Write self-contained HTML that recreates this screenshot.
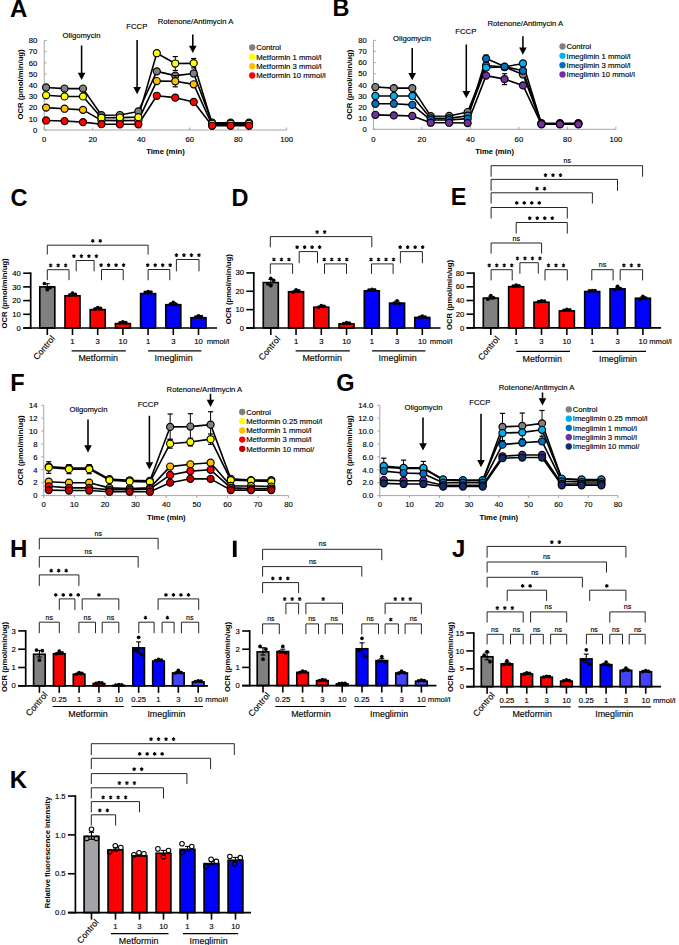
<!DOCTYPE html><html><head><meta charset="utf-8"><style>html,body{margin:0;padding:0;background:#fff;}svg{display:block;}text{font-family:"Liberation Sans",sans-serif;fill:#000;stroke:#000;stroke-width:0.14px;}text[font-weight="bold"]{stroke-width:0;}</style></head><body>
<svg width="679" height="945" viewBox="0 0 679 945">
<rect width="679" height="945" fill="#fff"/>
<text x="10" y="16.8" font-size="24" text-anchor="start" font-weight="bold">A</text>
<text x="332.6" y="16.3" font-size="23.5" text-anchor="start" font-weight="bold">B</text>
<text x="10.4" y="206" font-size="23.5" text-anchor="start" font-weight="bold">C</text>
<text x="231.5" y="206" font-size="23.5" text-anchor="start" font-weight="bold">D</text>
<text x="450.8" y="205.2" font-size="23.5" text-anchor="start" font-weight="bold">E</text>
<text x="10.2" y="390.5" font-size="23.5" text-anchor="start" font-weight="bold">F</text>
<text x="336.3" y="390.5" font-size="23.5" text-anchor="start" font-weight="bold">G</text>
<text x="10" y="557" font-size="24" text-anchor="start" font-weight="bold">H</text>
<rect x="232.9" y="540.7" width="3.7" height="16.3" fill="#000"/>
<text x="451.9" y="557.4" font-size="24" text-anchor="start" font-weight="bold">J</text>
<text x="9.8" y="788.2" font-size="24" text-anchor="start" font-weight="bold">K</text>
<line x1="44.2" y1="130" x2="44.2" y2="40.48" stroke="#a6a6a6" stroke-width="1"/>
<line x1="44.2" y1="130" x2="286.7" y2="130" stroke="#a6a6a6" stroke-width="1"/>
<line x1="44.2" y1="130" x2="46.7" y2="130" stroke="#a6a6a6" stroke-width="1"/>
<text x="37.3" y="132.75" font-size="7.7" text-anchor="end">0</text>
<line x1="44.2" y1="118.81" x2="46.7" y2="118.81" stroke="#a6a6a6" stroke-width="1"/>
<text x="37.3" y="121.56" font-size="7.7" text-anchor="end">10</text>
<line x1="44.2" y1="107.62" x2="46.7" y2="107.62" stroke="#a6a6a6" stroke-width="1"/>
<text x="37.3" y="110.37" font-size="7.7" text-anchor="end">20</text>
<line x1="44.2" y1="96.43" x2="46.7" y2="96.43" stroke="#a6a6a6" stroke-width="1"/>
<text x="37.3" y="99.18" font-size="7.7" text-anchor="end">30</text>
<line x1="44.2" y1="85.24" x2="46.7" y2="85.24" stroke="#a6a6a6" stroke-width="1"/>
<text x="37.3" y="87.99" font-size="7.7" text-anchor="end">40</text>
<line x1="44.2" y1="74.05" x2="46.7" y2="74.05" stroke="#a6a6a6" stroke-width="1"/>
<text x="37.3" y="76.8" font-size="7.7" text-anchor="end">50</text>
<line x1="44.2" y1="62.86" x2="46.7" y2="62.86" stroke="#a6a6a6" stroke-width="1"/>
<text x="37.3" y="65.61" font-size="7.7" text-anchor="end">60</text>
<line x1="44.2" y1="51.67" x2="46.7" y2="51.67" stroke="#a6a6a6" stroke-width="1"/>
<text x="37.3" y="54.42" font-size="7.7" text-anchor="end">70</text>
<line x1="44.2" y1="40.48" x2="46.7" y2="40.48" stroke="#a6a6a6" stroke-width="1"/>
<text x="37.3" y="43.23" font-size="7.7" text-anchor="end">80</text>
<line x1="44.2" y1="130" x2="44.2" y2="127.5" stroke="#a6a6a6" stroke-width="1"/>
<text x="44.2" y="141.6" font-size="7.7" text-anchor="middle">0</text>
<line x1="92.7" y1="130" x2="92.7" y2="127.5" stroke="#a6a6a6" stroke-width="1"/>
<text x="92.7" y="141.6" font-size="7.7" text-anchor="middle">20</text>
<line x1="141.2" y1="130" x2="141.2" y2="127.5" stroke="#a6a6a6" stroke-width="1"/>
<text x="141.2" y="141.6" font-size="7.7" text-anchor="middle">40</text>
<line x1="189.7" y1="130" x2="189.7" y2="127.5" stroke="#a6a6a6" stroke-width="1"/>
<text x="189.7" y="141.6" font-size="7.7" text-anchor="middle">60</text>
<line x1="238.2" y1="130" x2="238.2" y2="127.5" stroke="#a6a6a6" stroke-width="1"/>
<text x="238.2" y="141.6" font-size="7.7" text-anchor="middle">80</text>
<line x1="286.7" y1="130" x2="286.7" y2="127.5" stroke="#a6a6a6" stroke-width="1"/>
<text x="286.7" y="141.6" font-size="7.7" text-anchor="middle">100</text>
<text x="165.5" y="154.2" font-size="7.7" text-anchor="middle" font-weight="bold">Time (min)</text>
<text x="0" y="0" font-size="7.7" font-weight="bold" text-anchor="middle" transform="translate(23,84.4) rotate(-90)">OCR (pmol/min/ug)</text>
<text x="81.5" y="38.2" font-size="7.7" text-anchor="middle">Oligomycin</text>
<text x="136.8" y="29" font-size="7.7" text-anchor="middle">FCCP</text>
<text x="195.5" y="23.7" font-size="7.7" text-anchor="middle">Rotenone/Antimycin A</text>
<line x1="81.6" y1="45.5" x2="81.6" y2="73.2" stroke="#000" stroke-width="1.55"/>
<path d="M77.8 72.7 L85.4 72.7 L81.6 80 Z" fill="#000"/>
<line x1="137.1" y1="40" x2="137.1" y2="87.5" stroke="#000" stroke-width="1.55"/>
<path d="M133.3 87 L140.9 87 L137.1 94.3 Z" fill="#000"/>
<line x1="192.8" y1="34.5" x2="192.8" y2="46.2" stroke="#000" stroke-width="1.55"/>
<path d="M189 45.7 L196.6 45.7 L192.8 53 Z" fill="#000"/>
<path d="M46.1 87.48 L64.55 88.6 L83 88.6 L101.45 115.23 L119.9 115.01 L138.35 111.42 L156.8 71.36 L175.25 75.62 L193.7 73.49 L212.15 122.73 L230.6 122.73 L249.05 122.73" fill="none" stroke="#000" stroke-width="1.6" stroke-linejoin="round"/>
<path d="M46.1 95.31 L64.55 96.43 L83 96.43 L101.45 117.69 L119.9 117.58 L138.35 117.13 L156.8 53.24 L175.25 63.53 L193.7 63.2 L212.15 123.85 L230.6 123.85 L249.05 123.85" fill="none" stroke="#000" stroke-width="1.6" stroke-linejoin="round"/>
<path d="M46.1 107.62 L64.55 108.74 L83 109.86 L101.45 120.38 L119.9 120.6 L138.35 120.38 L156.8 81.1 L175.25 81.21 L193.7 84.34 L212.15 124.96 L230.6 124.41 L249.05 124.41" fill="none" stroke="#000" stroke-width="1.6" stroke-linejoin="round"/>
<path d="M46.1 120.49 L64.55 121.05 L83 122.17 L101.45 124.18 L119.9 124.29 L138.35 124.29 L156.8 95.76 L175.25 97.66 L193.7 101.91 L212.15 125.75 L230.6 125.75 L249.05 125.75" fill="none" stroke="#000" stroke-width="1.6" stroke-linejoin="round"/>
<line x1="156.8" y1="69.69" x2="156.8" y2="73.04" stroke="#000" stroke-width="1"/>
<line x1="154.2" y1="69.69" x2="159.4" y2="69.69" stroke="#000" stroke-width="1.2"/>
<line x1="154.2" y1="73.04" x2="159.4" y2="73.04" stroke="#000" stroke-width="1.2"/>
<line x1="175.25" y1="73.94" x2="175.25" y2="77.3" stroke="#000" stroke-width="1"/>
<line x1="172.65" y1="73.94" x2="177.85" y2="73.94" stroke="#000" stroke-width="1.2"/>
<line x1="172.65" y1="77.3" x2="177.85" y2="77.3" stroke="#000" stroke-width="1.2"/>
<line x1="193.7" y1="70.69" x2="193.7" y2="76.29" stroke="#000" stroke-width="1"/>
<line x1="191.1" y1="70.69" x2="196.3" y2="70.69" stroke="#000" stroke-width="1.2"/>
<line x1="191.1" y1="76.29" x2="196.3" y2="76.29" stroke="#000" stroke-width="1.2"/>
<circle cx="46.1" cy="87.48" r="3.55" fill="#808080" stroke="#000" stroke-width="1.15"/>
<circle cx="64.55" cy="88.6" r="3.55" fill="#808080" stroke="#000" stroke-width="1.15"/>
<circle cx="83" cy="88.6" r="3.55" fill="#808080" stroke="#000" stroke-width="1.15"/>
<circle cx="101.45" cy="115.23" r="3.55" fill="#808080" stroke="#000" stroke-width="1.15"/>
<circle cx="119.9" cy="115.01" r="3.55" fill="#808080" stroke="#000" stroke-width="1.15"/>
<circle cx="138.35" cy="111.42" r="3.55" fill="#808080" stroke="#000" stroke-width="1.15"/>
<circle cx="156.8" cy="71.36" r="3.55" fill="#808080" stroke="#000" stroke-width="1.15"/>
<circle cx="175.25" cy="75.62" r="3.55" fill="#808080" stroke="#000" stroke-width="1.15"/>
<circle cx="193.7" cy="73.49" r="3.55" fill="#808080" stroke="#000" stroke-width="1.15"/>
<circle cx="212.15" cy="122.73" r="3.55" fill="#808080" stroke="#000" stroke-width="1.15"/>
<circle cx="230.6" cy="122.73" r="3.55" fill="#808080" stroke="#000" stroke-width="1.15"/>
<circle cx="249.05" cy="122.73" r="3.55" fill="#808080" stroke="#000" stroke-width="1.15"/>
<line x1="175.25" y1="75.62" x2="175.25" y2="86.81" stroke="#000" stroke-width="1"/>
<line x1="172.65" y1="75.62" x2="177.85" y2="75.62" stroke="#000" stroke-width="1.2"/>
<line x1="172.65" y1="86.81" x2="177.85" y2="86.81" stroke="#000" stroke-width="1.2"/>
<circle cx="46.1" cy="107.62" r="3.55" fill="#ffc000" stroke="#000" stroke-width="1.15"/>
<circle cx="64.55" cy="108.74" r="3.55" fill="#ffc000" stroke="#000" stroke-width="1.15"/>
<circle cx="83" cy="109.86" r="3.55" fill="#ffc000" stroke="#000" stroke-width="1.15"/>
<circle cx="101.45" cy="120.38" r="3.55" fill="#ffc000" stroke="#000" stroke-width="1.15"/>
<circle cx="119.9" cy="120.6" r="3.55" fill="#ffc000" stroke="#000" stroke-width="1.15"/>
<circle cx="138.35" cy="120.38" r="3.55" fill="#ffc000" stroke="#000" stroke-width="1.15"/>
<circle cx="156.8" cy="81.1" r="3.55" fill="#ffc000" stroke="#000" stroke-width="1.15"/>
<circle cx="175.25" cy="81.21" r="3.55" fill="#ffc000" stroke="#000" stroke-width="1.15"/>
<circle cx="193.7" cy="84.34" r="3.55" fill="#ffc000" stroke="#000" stroke-width="1.15"/>
<circle cx="212.15" cy="124.96" r="3.55" fill="#ffc000" stroke="#000" stroke-width="1.15"/>
<circle cx="230.6" cy="124.41" r="3.55" fill="#ffc000" stroke="#000" stroke-width="1.15"/>
<circle cx="249.05" cy="124.41" r="3.55" fill="#ffc000" stroke="#000" stroke-width="1.15"/>
<line x1="175.25" y1="56.59" x2="175.25" y2="70.47" stroke="#000" stroke-width="1"/>
<line x1="172.65" y1="56.59" x2="177.85" y2="56.59" stroke="#000" stroke-width="1.2"/>
<line x1="172.65" y1="70.47" x2="177.85" y2="70.47" stroke="#000" stroke-width="1.2"/>
<line x1="193.7" y1="58.5" x2="193.7" y2="67.9" stroke="#000" stroke-width="1"/>
<line x1="191.1" y1="58.5" x2="196.3" y2="58.5" stroke="#000" stroke-width="1.2"/>
<line x1="191.1" y1="67.9" x2="196.3" y2="67.9" stroke="#000" stroke-width="1.2"/>
<circle cx="46.1" cy="95.31" r="3.55" fill="#ffff00" stroke="#000" stroke-width="1.15"/>
<circle cx="64.55" cy="96.43" r="3.55" fill="#ffff00" stroke="#000" stroke-width="1.15"/>
<circle cx="83" cy="96.43" r="3.55" fill="#ffff00" stroke="#000" stroke-width="1.15"/>
<circle cx="101.45" cy="117.69" r="3.55" fill="#ffff00" stroke="#000" stroke-width="1.15"/>
<circle cx="119.9" cy="117.58" r="3.55" fill="#ffff00" stroke="#000" stroke-width="1.15"/>
<circle cx="138.35" cy="117.13" r="3.55" fill="#ffff00" stroke="#000" stroke-width="1.15"/>
<circle cx="156.8" cy="53.24" r="3.55" fill="#ffff00" stroke="#000" stroke-width="1.15"/>
<circle cx="175.25" cy="63.53" r="3.55" fill="#ffff00" stroke="#000" stroke-width="1.15"/>
<circle cx="193.7" cy="63.2" r="3.55" fill="#ffff00" stroke="#000" stroke-width="1.15"/>
<circle cx="212.15" cy="123.85" r="3.55" fill="#ffff00" stroke="#000" stroke-width="1.15"/>
<circle cx="230.6" cy="123.85" r="3.55" fill="#ffff00" stroke="#000" stroke-width="1.15"/>
<circle cx="249.05" cy="123.85" r="3.55" fill="#ffff00" stroke="#000" stroke-width="1.15"/>
<circle cx="46.1" cy="120.49" r="3.55" fill="#ff0000" stroke="#000" stroke-width="1.15"/>
<circle cx="64.55" cy="121.05" r="3.55" fill="#ff0000" stroke="#000" stroke-width="1.15"/>
<circle cx="83" cy="122.17" r="3.55" fill="#ff0000" stroke="#000" stroke-width="1.15"/>
<circle cx="101.45" cy="124.18" r="3.55" fill="#ff0000" stroke="#000" stroke-width="1.15"/>
<circle cx="119.9" cy="124.29" r="3.55" fill="#ff0000" stroke="#000" stroke-width="1.15"/>
<circle cx="138.35" cy="124.29" r="3.55" fill="#ff0000" stroke="#000" stroke-width="1.15"/>
<circle cx="156.8" cy="95.76" r="3.55" fill="#ff0000" stroke="#000" stroke-width="1.15"/>
<circle cx="175.25" cy="97.66" r="3.55" fill="#ff0000" stroke="#000" stroke-width="1.15"/>
<circle cx="193.7" cy="101.91" r="3.55" fill="#ff0000" stroke="#000" stroke-width="1.15"/>
<circle cx="212.15" cy="125.75" r="3.55" fill="#ff0000" stroke="#000" stroke-width="1.15"/>
<circle cx="230.6" cy="125.75" r="3.55" fill="#ff0000" stroke="#000" stroke-width="1.15"/>
<circle cx="249.05" cy="125.75" r="3.55" fill="#ff0000" stroke="#000" stroke-width="1.15"/>
<circle cx="252.2" cy="47.5" r="3.15" fill="#808080"/>
<text x="256.2" y="50.25" font-size="7.7" text-anchor="start">Control</text>
<circle cx="252.2" cy="56.83" r="3.15" fill="#ffff00"/>
<text x="256.2" y="59.58" font-size="7.7" text-anchor="start">Metformin 1 mmol/l</text>
<circle cx="252.2" cy="66.16" r="3.15" fill="#ffc000"/>
<text x="256.2" y="68.91" font-size="7.7" text-anchor="start">Metformin 3 mmol/l</text>
<circle cx="252.2" cy="75.49" r="3.15" fill="#ff0000"/>
<text x="256.2" y="78.24" font-size="7.7" text-anchor="start">Metformin 10 mmol/l</text>
<line x1="373.4" y1="129.3" x2="373.4" y2="40.36" stroke="#a6a6a6" stroke-width="1"/>
<line x1="373.4" y1="129.3" x2="615.9" y2="129.3" stroke="#a6a6a6" stroke-width="1"/>
<line x1="373.4" y1="129.3" x2="375.9" y2="129.3" stroke="#a6a6a6" stroke-width="1"/>
<text x="366.9" y="132.05" font-size="7.7" text-anchor="end">0</text>
<line x1="373.4" y1="118.18" x2="375.9" y2="118.18" stroke="#a6a6a6" stroke-width="1"/>
<text x="366.9" y="120.93" font-size="7.7" text-anchor="end">10</text>
<line x1="373.4" y1="107.07" x2="375.9" y2="107.07" stroke="#a6a6a6" stroke-width="1"/>
<text x="366.9" y="109.82" font-size="7.7" text-anchor="end">20</text>
<line x1="373.4" y1="95.95" x2="375.9" y2="95.95" stroke="#a6a6a6" stroke-width="1"/>
<text x="366.9" y="98.7" font-size="7.7" text-anchor="end">30</text>
<line x1="373.4" y1="84.83" x2="375.9" y2="84.83" stroke="#a6a6a6" stroke-width="1"/>
<text x="366.9" y="87.58" font-size="7.7" text-anchor="end">40</text>
<line x1="373.4" y1="73.72" x2="375.9" y2="73.72" stroke="#a6a6a6" stroke-width="1"/>
<text x="366.9" y="76.47" font-size="7.7" text-anchor="end">50</text>
<line x1="373.4" y1="62.6" x2="375.9" y2="62.6" stroke="#a6a6a6" stroke-width="1"/>
<text x="366.9" y="65.35" font-size="7.7" text-anchor="end">60</text>
<line x1="373.4" y1="51.48" x2="375.9" y2="51.48" stroke="#a6a6a6" stroke-width="1"/>
<text x="366.9" y="54.23" font-size="7.7" text-anchor="end">70</text>
<line x1="373.4" y1="40.36" x2="375.9" y2="40.36" stroke="#a6a6a6" stroke-width="1"/>
<text x="366.9" y="43.11" font-size="7.7" text-anchor="end">80</text>
<line x1="373.4" y1="129.3" x2="373.4" y2="126.8" stroke="#a6a6a6" stroke-width="1"/>
<text x="373.4" y="141.6" font-size="7.7" text-anchor="middle">0</text>
<line x1="421.9" y1="129.3" x2="421.9" y2="126.8" stroke="#a6a6a6" stroke-width="1"/>
<text x="421.9" y="141.6" font-size="7.7" text-anchor="middle">20</text>
<line x1="470.4" y1="129.3" x2="470.4" y2="126.8" stroke="#a6a6a6" stroke-width="1"/>
<text x="470.4" y="141.6" font-size="7.7" text-anchor="middle">40</text>
<line x1="518.9" y1="129.3" x2="518.9" y2="126.8" stroke="#a6a6a6" stroke-width="1"/>
<text x="518.9" y="141.6" font-size="7.7" text-anchor="middle">60</text>
<line x1="567.4" y1="129.3" x2="567.4" y2="126.8" stroke="#a6a6a6" stroke-width="1"/>
<text x="567.4" y="141.6" font-size="7.7" text-anchor="middle">80</text>
<line x1="615.9" y1="129.3" x2="615.9" y2="126.8" stroke="#a6a6a6" stroke-width="1"/>
<text x="615.9" y="141.6" font-size="7.7" text-anchor="middle">100</text>
<text x="494.6" y="154.2" font-size="7.7" text-anchor="middle" font-weight="bold">Time (min)</text>
<text x="0" y="0" font-size="7.7" font-weight="bold" text-anchor="middle" transform="translate(352,84.8) rotate(-90)">OCR (pmol/min/ug)</text>
<text x="412" y="40.6" font-size="7.7" text-anchor="middle">Oligomycin</text>
<text x="465.8" y="33.6" font-size="7.7" text-anchor="middle">FCCP</text>
<text x="525.3" y="25.5" font-size="7.7" text-anchor="middle">Rotenone/Antimycin A</text>
<line x1="412.2" y1="48" x2="412.2" y2="73.5" stroke="#000" stroke-width="1.55"/>
<path d="M408.4 73 L416 73 L412.2 80.3 Z" fill="#000"/>
<line x1="466.3" y1="44.5" x2="466.3" y2="91.5" stroke="#000" stroke-width="1.55"/>
<path d="M462.5 91 L470.1 91 L466.3 98.3 Z" fill="#000"/>
<line x1="522.9" y1="36.3" x2="522.9" y2="48" stroke="#000" stroke-width="1.55"/>
<path d="M519.1 47.5 L526.7 47.5 L522.9 54.8 Z" fill="#000"/>
<path d="M375.4 87.06 L393.85 88.17 L412.3 88.17 L430.75 116.18 L449.2 115.96 L467.65 112.07 L486.1 65.49 L504.55 67.04 L523 74.49 L541.45 123.19 L559.9 123.19 L578.35 123.19" fill="none" stroke="#000" stroke-width="1.6" stroke-linejoin="round"/>
<path d="M375.4 95.95 L393.85 95.95 L412.3 95.95 L430.75 118.41 L449.2 118.41 L467.65 115.74 L486.1 67.6 L504.55 66.82 L523 63.49 L541.45 123.74 L559.9 123.74 L578.35 123.74" fill="none" stroke="#000" stroke-width="1.6" stroke-linejoin="round"/>
<path d="M375.4 103.73 L393.85 103.73 L412.3 104.84 L430.75 120.07 L449.2 120.07 L467.65 118.63 L486.1 58.6 L504.55 66.6 L523 70.71 L541.45 123.96 L559.9 123.96 L578.35 123.96" fill="none" stroke="#000" stroke-width="1.6" stroke-linejoin="round"/>
<path d="M375.4 114.85 L393.85 115.4 L412.3 115.96 L430.75 122.74 L449.2 122.74 L467.65 123.07 L486.1 75.6 L504.55 79.16 L523 85.39 L541.45 124.3 L559.9 124.3 L578.35 124.3" fill="none" stroke="#000" stroke-width="1.6" stroke-linejoin="round"/>
<line x1="523" y1="72.27" x2="523" y2="76.72" stroke="#000" stroke-width="1"/>
<line x1="520.4" y1="72.27" x2="525.6" y2="72.27" stroke="#000" stroke-width="1.2"/>
<line x1="520.4" y1="76.72" x2="525.6" y2="76.72" stroke="#000" stroke-width="1.2"/>
<circle cx="375.4" cy="87.06" r="3.55" fill="#808080" stroke="#000" stroke-width="1.15"/>
<circle cx="393.85" cy="88.17" r="3.55" fill="#808080" stroke="#000" stroke-width="1.15"/>
<circle cx="412.3" cy="88.17" r="3.55" fill="#808080" stroke="#000" stroke-width="1.15"/>
<circle cx="430.75" cy="116.18" r="3.55" fill="#808080" stroke="#000" stroke-width="1.15"/>
<circle cx="449.2" cy="115.96" r="3.55" fill="#808080" stroke="#000" stroke-width="1.15"/>
<circle cx="467.65" cy="112.07" r="3.55" fill="#808080" stroke="#000" stroke-width="1.15"/>
<circle cx="486.1" cy="65.49" r="3.55" fill="#808080" stroke="#000" stroke-width="1.15"/>
<circle cx="504.55" cy="67.04" r="3.55" fill="#808080" stroke="#000" stroke-width="1.15"/>
<circle cx="523" cy="74.49" r="3.55" fill="#808080" stroke="#000" stroke-width="1.15"/>
<circle cx="541.45" cy="123.19" r="3.55" fill="#808080" stroke="#000" stroke-width="1.15"/>
<circle cx="559.9" cy="123.19" r="3.55" fill="#808080" stroke="#000" stroke-width="1.15"/>
<circle cx="578.35" cy="123.19" r="3.55" fill="#808080" stroke="#000" stroke-width="1.15"/>
<circle cx="375.4" cy="95.95" r="3.55" fill="#00b0f0" stroke="#000" stroke-width="1.15"/>
<circle cx="393.85" cy="95.95" r="3.55" fill="#00b0f0" stroke="#000" stroke-width="1.15"/>
<circle cx="412.3" cy="95.95" r="3.55" fill="#00b0f0" stroke="#000" stroke-width="1.15"/>
<circle cx="430.75" cy="118.41" r="3.55" fill="#00b0f0" stroke="#000" stroke-width="1.15"/>
<circle cx="449.2" cy="118.41" r="3.55" fill="#00b0f0" stroke="#000" stroke-width="1.15"/>
<circle cx="467.65" cy="115.74" r="3.55" fill="#00b0f0" stroke="#000" stroke-width="1.15"/>
<circle cx="486.1" cy="67.6" r="3.55" fill="#00b0f0" stroke="#000" stroke-width="1.15"/>
<circle cx="504.55" cy="66.82" r="3.55" fill="#00b0f0" stroke="#000" stroke-width="1.15"/>
<circle cx="523" cy="63.49" r="3.55" fill="#00b0f0" stroke="#000" stroke-width="1.15"/>
<circle cx="541.45" cy="123.74" r="3.55" fill="#00b0f0" stroke="#000" stroke-width="1.15"/>
<circle cx="559.9" cy="123.74" r="3.55" fill="#00b0f0" stroke="#000" stroke-width="1.15"/>
<circle cx="578.35" cy="123.74" r="3.55" fill="#00b0f0" stroke="#000" stroke-width="1.15"/>
<line x1="375.4" y1="102.06" x2="375.4" y2="105.4" stroke="#000" stroke-width="1"/>
<line x1="372.8" y1="102.06" x2="378" y2="102.06" stroke="#000" stroke-width="1.2"/>
<line x1="372.8" y1="105.4" x2="378" y2="105.4" stroke="#000" stroke-width="1.2"/>
<line x1="486.1" y1="55.04" x2="486.1" y2="62.15" stroke="#000" stroke-width="1"/>
<line x1="483.5" y1="55.04" x2="488.7" y2="55.04" stroke="#000" stroke-width="1.2"/>
<line x1="483.5" y1="62.15" x2="488.7" y2="62.15" stroke="#000" stroke-width="1.2"/>
<circle cx="375.4" cy="103.73" r="3.55" fill="#0070c0" stroke="#000" stroke-width="1.15"/>
<circle cx="393.85" cy="103.73" r="3.55" fill="#0070c0" stroke="#000" stroke-width="1.15"/>
<circle cx="412.3" cy="104.84" r="3.55" fill="#0070c0" stroke="#000" stroke-width="1.15"/>
<circle cx="430.75" cy="120.07" r="3.55" fill="#0070c0" stroke="#000" stroke-width="1.15"/>
<circle cx="449.2" cy="120.07" r="3.55" fill="#0070c0" stroke="#000" stroke-width="1.15"/>
<circle cx="467.65" cy="118.63" r="3.55" fill="#0070c0" stroke="#000" stroke-width="1.15"/>
<circle cx="486.1" cy="58.6" r="3.55" fill="#0070c0" stroke="#000" stroke-width="1.15"/>
<circle cx="504.55" cy="66.6" r="3.55" fill="#0070c0" stroke="#000" stroke-width="1.15"/>
<circle cx="523" cy="70.71" r="3.55" fill="#0070c0" stroke="#000" stroke-width="1.15"/>
<circle cx="541.45" cy="123.96" r="3.55" fill="#0070c0" stroke="#000" stroke-width="1.15"/>
<circle cx="559.9" cy="123.96" r="3.55" fill="#0070c0" stroke="#000" stroke-width="1.15"/>
<circle cx="578.35" cy="123.96" r="3.55" fill="#0070c0" stroke="#000" stroke-width="1.15"/>
<line x1="504.55" y1="73.72" x2="504.55" y2="84.61" stroke="#000" stroke-width="1"/>
<line x1="501.95" y1="73.72" x2="507.15" y2="73.72" stroke="#000" stroke-width="1.2"/>
<line x1="501.95" y1="84.61" x2="507.15" y2="84.61" stroke="#000" stroke-width="1.2"/>
<circle cx="375.4" cy="114.85" r="3.55" fill="#7030a0" stroke="#000" stroke-width="1.15"/>
<circle cx="393.85" cy="115.4" r="3.55" fill="#7030a0" stroke="#000" stroke-width="1.15"/>
<circle cx="412.3" cy="115.96" r="3.55" fill="#7030a0" stroke="#000" stroke-width="1.15"/>
<circle cx="430.75" cy="122.74" r="3.55" fill="#7030a0" stroke="#000" stroke-width="1.15"/>
<circle cx="449.2" cy="122.74" r="3.55" fill="#7030a0" stroke="#000" stroke-width="1.15"/>
<circle cx="467.65" cy="123.07" r="3.55" fill="#7030a0" stroke="#000" stroke-width="1.15"/>
<circle cx="486.1" cy="75.6" r="3.55" fill="#7030a0" stroke="#000" stroke-width="1.15"/>
<circle cx="504.55" cy="79.16" r="3.55" fill="#7030a0" stroke="#000" stroke-width="1.15"/>
<circle cx="523" cy="85.39" r="3.55" fill="#7030a0" stroke="#000" stroke-width="1.15"/>
<circle cx="541.45" cy="124.3" r="3.55" fill="#7030a0" stroke="#000" stroke-width="1.15"/>
<circle cx="559.9" cy="124.3" r="3.55" fill="#7030a0" stroke="#000" stroke-width="1.15"/>
<circle cx="578.35" cy="124.3" r="3.55" fill="#7030a0" stroke="#000" stroke-width="1.15"/>
<circle cx="562.5" cy="46.5" r="3.15" fill="#808080"/>
<text x="566.5" y="49.25" font-size="7.7" text-anchor="start">Control</text>
<circle cx="562.5" cy="55.83" r="3.15" fill="#00b0f0"/>
<text x="566.5" y="58.58" font-size="7.7" text-anchor="start">Imeglimin 1 mmol/l</text>
<circle cx="562.5" cy="65.16" r="3.15" fill="#0070c0"/>
<text x="566.5" y="67.91" font-size="7.7" text-anchor="start">Imeglimin 3 mmol/l</text>
<circle cx="562.5" cy="74.49" r="3.15" fill="#7030a0"/>
<text x="566.5" y="77.24" font-size="7.7" text-anchor="start">Imeglimin 10 mmol/l</text>
<line x1="43.75" y1="495.6" x2="43.75" y2="405.3" stroke="#a6a6a6" stroke-width="1"/>
<line x1="43.75" y1="495.6" x2="288.63" y2="495.6" stroke="#a6a6a6" stroke-width="1"/>
<line x1="43.75" y1="495.6" x2="41.25" y2="495.6" stroke="#a6a6a6" stroke-width="1"/>
<text x="37.6" y="498.35" font-size="7.7" text-anchor="end">0</text>
<line x1="43.75" y1="482.7" x2="41.25" y2="482.7" stroke="#a6a6a6" stroke-width="1"/>
<text x="37.6" y="485.45" font-size="7.7" text-anchor="end">2</text>
<line x1="43.75" y1="469.8" x2="41.25" y2="469.8" stroke="#a6a6a6" stroke-width="1"/>
<text x="37.6" y="472.55" font-size="7.7" text-anchor="end">4</text>
<line x1="43.75" y1="456.9" x2="41.25" y2="456.9" stroke="#a6a6a6" stroke-width="1"/>
<text x="37.6" y="459.65" font-size="7.7" text-anchor="end">6</text>
<line x1="43.75" y1="444" x2="41.25" y2="444" stroke="#a6a6a6" stroke-width="1"/>
<text x="37.6" y="446.75" font-size="7.7" text-anchor="end">8</text>
<line x1="43.75" y1="431.1" x2="41.25" y2="431.1" stroke="#a6a6a6" stroke-width="1"/>
<text x="37.6" y="433.85" font-size="7.7" text-anchor="end">10</text>
<line x1="43.75" y1="418.2" x2="41.25" y2="418.2" stroke="#a6a6a6" stroke-width="1"/>
<text x="37.6" y="420.95" font-size="7.7" text-anchor="end">12</text>
<line x1="43.75" y1="405.3" x2="41.25" y2="405.3" stroke="#a6a6a6" stroke-width="1"/>
<text x="37.6" y="408.05" font-size="7.7" text-anchor="end">14</text>
<line x1="43.75" y1="495.6" x2="43.75" y2="498.1" stroke="#a6a6a6" stroke-width="1"/>
<text x="43.75" y="507.2" font-size="7.7" text-anchor="middle">0</text>
<line x1="74.36" y1="495.6" x2="74.36" y2="498.1" stroke="#a6a6a6" stroke-width="1"/>
<text x="74.36" y="507.2" font-size="7.7" text-anchor="middle">10</text>
<line x1="104.97" y1="495.6" x2="104.97" y2="498.1" stroke="#a6a6a6" stroke-width="1"/>
<text x="104.97" y="507.2" font-size="7.7" text-anchor="middle">20</text>
<line x1="135.58" y1="495.6" x2="135.58" y2="498.1" stroke="#a6a6a6" stroke-width="1"/>
<text x="135.58" y="507.2" font-size="7.7" text-anchor="middle">30</text>
<line x1="166.19" y1="495.6" x2="166.19" y2="498.1" stroke="#a6a6a6" stroke-width="1"/>
<text x="166.19" y="507.2" font-size="7.7" text-anchor="middle">40</text>
<line x1="196.8" y1="495.6" x2="196.8" y2="498.1" stroke="#a6a6a6" stroke-width="1"/>
<text x="196.8" y="507.2" font-size="7.7" text-anchor="middle">50</text>
<line x1="227.41" y1="495.6" x2="227.41" y2="498.1" stroke="#a6a6a6" stroke-width="1"/>
<text x="227.41" y="507.2" font-size="7.7" text-anchor="middle">60</text>
<line x1="258.02" y1="495.6" x2="258.02" y2="498.1" stroke="#a6a6a6" stroke-width="1"/>
<text x="258.02" y="507.2" font-size="7.7" text-anchor="middle">70</text>
<line x1="288.63" y1="495.6" x2="288.63" y2="498.1" stroke="#a6a6a6" stroke-width="1"/>
<text x="288.63" y="507.2" font-size="7.7" text-anchor="middle">80</text>
<text x="166.3" y="520.3" font-size="7.7" text-anchor="middle" font-weight="bold">Time (min)</text>
<text x="0" y="0" font-size="7.7" font-weight="bold" text-anchor="middle" transform="translate(22.5,450.5) rotate(-90)">OCR (pmol/min/ug)</text>
<text x="88.5" y="412.3" font-size="7.7" text-anchor="middle">Oligomycin</text>
<text x="148.1" y="406.5" font-size="7.7" text-anchor="middle">FCCP</text>
<text x="204.4" y="392" font-size="7.7" text-anchor="middle">Rotenone/Antimycin A</text>
<line x1="88" y1="419.5" x2="88" y2="445.7" stroke="#000" stroke-width="1.55"/>
<path d="M84.2 445.2 L91.8 445.2 L88 452.5 Z" fill="#000"/>
<line x1="149.4" y1="415.8" x2="149.4" y2="462.7" stroke="#000" stroke-width="1.55"/>
<path d="M145.6 462.2 L153.2 462.2 L149.4 469.5 Z" fill="#000"/>
<line x1="210.5" y1="393.8" x2="210.5" y2="400.2" stroke="#000" stroke-width="1.55"/>
<path d="M206.7 399.7 L214.3 399.7 L210.5 407 Z" fill="#000"/>
<path d="M48.75 466.58 L68.98 468.06 L89.21 468.06 L109.44 479.15 L129.67 480.25 L149.9 480.77 L170.13 426.91 L190.36 426.59 L210.59 424.65 L230.82 478.83 L251.05 480.12 L271.28 480.12" fill="none" stroke="#000" stroke-width="1.6" stroke-linejoin="round"/>
<path d="M48.75 467.54 L68.98 469.16 L89.21 469.16 L109.44 480.12 L129.67 481.41 L149.9 482.06 L170.13 443.68 L190.36 442.06 L210.59 439.16 L230.82 480.12 L251.05 480.77 L271.28 481.41" fill="none" stroke="#000" stroke-width="1.6" stroke-linejoin="round"/>
<path d="M48.75 481.73 L68.98 482.7 L89.21 482.7 L109.44 487.86 L129.67 488.5 L149.9 487.86 L170.13 466.58 L190.36 464.32 L210.59 462.71 L230.82 485.93 L251.05 485.93 L271.28 486.57" fill="none" stroke="#000" stroke-width="1.6" stroke-linejoin="round"/>
<path d="M48.75 486.25 L68.98 487.86 L89.21 487.86 L109.44 489.8 L129.67 489.8 L149.9 489.15 L170.13 474.96 L190.36 471.09 L210.59 469.8 L230.82 487.86 L251.05 488.5 L271.28 488.5" fill="none" stroke="#000" stroke-width="1.6" stroke-linejoin="round"/>
<path d="M48.75 490.12 L68.98 490.57 L89.21 490.57 L109.44 491.73 L129.67 491.73 L149.9 491.73 L170.13 482.7 L190.36 478.83 L210.59 478.83 L230.82 490.12 L251.05 490.12 L271.28 490.12" fill="none" stroke="#000" stroke-width="1.6" stroke-linejoin="round"/>
<line x1="170.13" y1="414.01" x2="170.13" y2="439.81" stroke="#000" stroke-width="1"/>
<line x1="167.53" y1="414.01" x2="172.73" y2="414.01" stroke="#000" stroke-width="1.2"/>
<line x1="167.53" y1="439.81" x2="172.73" y2="439.81" stroke="#000" stroke-width="1.2"/>
<line x1="190.36" y1="413.69" x2="190.36" y2="439.49" stroke="#000" stroke-width="1"/>
<line x1="187.76" y1="413.69" x2="192.96" y2="413.69" stroke="#000" stroke-width="1.2"/>
<line x1="187.76" y1="439.49" x2="192.96" y2="439.49" stroke="#000" stroke-width="1.2"/>
<line x1="210.59" y1="411.75" x2="210.59" y2="437.55" stroke="#000" stroke-width="1"/>
<line x1="207.99" y1="411.75" x2="213.19" y2="411.75" stroke="#000" stroke-width="1.2"/>
<line x1="207.99" y1="437.55" x2="213.19" y2="437.55" stroke="#000" stroke-width="1.2"/>
<circle cx="48.75" cy="466.58" r="3.55" fill="#808080" stroke="#000" stroke-width="1.15"/>
<circle cx="68.98" cy="468.06" r="3.55" fill="#808080" stroke="#000" stroke-width="1.15"/>
<circle cx="89.21" cy="468.06" r="3.55" fill="#808080" stroke="#000" stroke-width="1.15"/>
<circle cx="109.44" cy="479.15" r="3.55" fill="#808080" stroke="#000" stroke-width="1.15"/>
<circle cx="129.67" cy="480.25" r="3.55" fill="#808080" stroke="#000" stroke-width="1.15"/>
<circle cx="149.9" cy="480.77" r="3.55" fill="#808080" stroke="#000" stroke-width="1.15"/>
<circle cx="170.13" cy="426.91" r="3.55" fill="#808080" stroke="#000" stroke-width="1.15"/>
<circle cx="190.36" cy="426.59" r="3.55" fill="#808080" stroke="#000" stroke-width="1.15"/>
<circle cx="210.59" cy="424.65" r="3.55" fill="#808080" stroke="#000" stroke-width="1.15"/>
<circle cx="230.82" cy="478.83" r="3.55" fill="#808080" stroke="#000" stroke-width="1.15"/>
<circle cx="251.05" cy="480.12" r="3.55" fill="#808080" stroke="#000" stroke-width="1.15"/>
<circle cx="271.28" cy="480.12" r="3.55" fill="#808080" stroke="#000" stroke-width="1.15"/>
<line x1="48.75" y1="461.74" x2="48.75" y2="473.35" stroke="#000" stroke-width="1"/>
<line x1="46.15" y1="461.74" x2="51.35" y2="461.74" stroke="#000" stroke-width="1.2"/>
<line x1="46.15" y1="473.35" x2="51.35" y2="473.35" stroke="#000" stroke-width="1.2"/>
<line x1="68.98" y1="464.64" x2="68.98" y2="473.67" stroke="#000" stroke-width="1"/>
<line x1="66.38" y1="464.64" x2="71.58" y2="464.64" stroke="#000" stroke-width="1.2"/>
<line x1="66.38" y1="473.67" x2="71.58" y2="473.67" stroke="#000" stroke-width="1.2"/>
<line x1="89.21" y1="464.64" x2="89.21" y2="473.67" stroke="#000" stroke-width="1"/>
<line x1="86.61" y1="464.64" x2="91.81" y2="464.64" stroke="#000" stroke-width="1.2"/>
<line x1="86.61" y1="473.67" x2="91.81" y2="473.67" stroke="#000" stroke-width="1.2"/>
<line x1="170.13" y1="439.16" x2="170.13" y2="448.19" stroke="#000" stroke-width="1"/>
<line x1="167.53" y1="439.16" x2="172.73" y2="439.16" stroke="#000" stroke-width="1.2"/>
<line x1="167.53" y1="448.19" x2="172.73" y2="448.19" stroke="#000" stroke-width="1.2"/>
<line x1="190.36" y1="438.19" x2="190.36" y2="445.94" stroke="#000" stroke-width="1"/>
<line x1="187.76" y1="438.19" x2="192.96" y2="438.19" stroke="#000" stroke-width="1.2"/>
<line x1="187.76" y1="445.94" x2="192.96" y2="445.94" stroke="#000" stroke-width="1.2"/>
<line x1="210.59" y1="434" x2="210.59" y2="444.32" stroke="#000" stroke-width="1"/>
<line x1="207.99" y1="434" x2="213.19" y2="434" stroke="#000" stroke-width="1.2"/>
<line x1="207.99" y1="444.32" x2="213.19" y2="444.32" stroke="#000" stroke-width="1.2"/>
<circle cx="48.75" cy="467.54" r="3.55" fill="#ffff00" stroke="#000" stroke-width="1.15"/>
<circle cx="68.98" cy="469.16" r="3.55" fill="#ffff00" stroke="#000" stroke-width="1.15"/>
<circle cx="89.21" cy="469.16" r="3.55" fill="#ffff00" stroke="#000" stroke-width="1.15"/>
<circle cx="109.44" cy="480.12" r="3.55" fill="#ffff00" stroke="#000" stroke-width="1.15"/>
<circle cx="129.67" cy="481.41" r="3.55" fill="#ffff00" stroke="#000" stroke-width="1.15"/>
<circle cx="149.9" cy="482.06" r="3.55" fill="#ffff00" stroke="#000" stroke-width="1.15"/>
<circle cx="170.13" cy="443.68" r="3.55" fill="#ffff00" stroke="#000" stroke-width="1.15"/>
<circle cx="190.36" cy="442.06" r="3.55" fill="#ffff00" stroke="#000" stroke-width="1.15"/>
<circle cx="210.59" cy="439.16" r="3.55" fill="#ffff00" stroke="#000" stroke-width="1.15"/>
<circle cx="230.82" cy="480.12" r="3.55" fill="#ffff00" stroke="#000" stroke-width="1.15"/>
<circle cx="251.05" cy="480.77" r="3.55" fill="#ffff00" stroke="#000" stroke-width="1.15"/>
<circle cx="271.28" cy="481.41" r="3.55" fill="#ffff00" stroke="#000" stroke-width="1.15"/>
<circle cx="48.75" cy="481.73" r="3.55" fill="#ffc000" stroke="#000" stroke-width="1.15"/>
<circle cx="68.98" cy="482.7" r="3.55" fill="#ffc000" stroke="#000" stroke-width="1.15"/>
<circle cx="89.21" cy="482.7" r="3.55" fill="#ffc000" stroke="#000" stroke-width="1.15"/>
<circle cx="109.44" cy="487.86" r="3.55" fill="#ffc000" stroke="#000" stroke-width="1.15"/>
<circle cx="129.67" cy="488.5" r="3.55" fill="#ffc000" stroke="#000" stroke-width="1.15"/>
<circle cx="149.9" cy="487.86" r="3.55" fill="#ffc000" stroke="#000" stroke-width="1.15"/>
<circle cx="170.13" cy="466.58" r="3.55" fill="#ffc000" stroke="#000" stroke-width="1.15"/>
<circle cx="190.36" cy="464.32" r="3.55" fill="#ffc000" stroke="#000" stroke-width="1.15"/>
<circle cx="210.59" cy="462.71" r="3.55" fill="#ffc000" stroke="#000" stroke-width="1.15"/>
<circle cx="230.82" cy="485.93" r="3.55" fill="#ffc000" stroke="#000" stroke-width="1.15"/>
<circle cx="251.05" cy="485.93" r="3.55" fill="#ffc000" stroke="#000" stroke-width="1.15"/>
<circle cx="271.28" cy="486.57" r="3.55" fill="#ffc000" stroke="#000" stroke-width="1.15"/>
<circle cx="48.75" cy="486.25" r="3.55" fill="#ff0000" stroke="#000" stroke-width="1.15"/>
<circle cx="68.98" cy="487.86" r="3.55" fill="#ff0000" stroke="#000" stroke-width="1.15"/>
<circle cx="89.21" cy="487.86" r="3.55" fill="#ff0000" stroke="#000" stroke-width="1.15"/>
<circle cx="109.44" cy="489.8" r="3.55" fill="#ff0000" stroke="#000" stroke-width="1.15"/>
<circle cx="129.67" cy="489.8" r="3.55" fill="#ff0000" stroke="#000" stroke-width="1.15"/>
<circle cx="149.9" cy="489.15" r="3.55" fill="#ff0000" stroke="#000" stroke-width="1.15"/>
<circle cx="170.13" cy="474.96" r="3.55" fill="#ff0000" stroke="#000" stroke-width="1.15"/>
<circle cx="190.36" cy="471.09" r="3.55" fill="#ff0000" stroke="#000" stroke-width="1.15"/>
<circle cx="210.59" cy="469.8" r="3.55" fill="#ff0000" stroke="#000" stroke-width="1.15"/>
<circle cx="230.82" cy="487.86" r="3.55" fill="#ff0000" stroke="#000" stroke-width="1.15"/>
<circle cx="251.05" cy="488.5" r="3.55" fill="#ff0000" stroke="#000" stroke-width="1.15"/>
<circle cx="271.28" cy="488.5" r="3.55" fill="#ff0000" stroke="#000" stroke-width="1.15"/>
<circle cx="48.75" cy="490.12" r="3.55" fill="#c00000" stroke="#000" stroke-width="1.15"/>
<circle cx="68.98" cy="490.57" r="3.55" fill="#c00000" stroke="#000" stroke-width="1.15"/>
<circle cx="89.21" cy="490.57" r="3.55" fill="#c00000" stroke="#000" stroke-width="1.15"/>
<circle cx="109.44" cy="491.73" r="3.55" fill="#c00000" stroke="#000" stroke-width="1.15"/>
<circle cx="129.67" cy="491.73" r="3.55" fill="#c00000" stroke="#000" stroke-width="1.15"/>
<circle cx="149.9" cy="491.73" r="3.55" fill="#c00000" stroke="#000" stroke-width="1.15"/>
<circle cx="170.13" cy="482.7" r="3.55" fill="#c00000" stroke="#000" stroke-width="1.15"/>
<circle cx="190.36" cy="478.83" r="3.55" fill="#c00000" stroke="#000" stroke-width="1.15"/>
<circle cx="210.59" cy="478.83" r="3.55" fill="#c00000" stroke="#000" stroke-width="1.15"/>
<circle cx="230.82" cy="490.12" r="3.55" fill="#c00000" stroke="#000" stroke-width="1.15"/>
<circle cx="251.05" cy="490.12" r="3.55" fill="#c00000" stroke="#000" stroke-width="1.15"/>
<circle cx="271.28" cy="490.12" r="3.55" fill="#c00000" stroke="#000" stroke-width="1.15"/>
<circle cx="242.2" cy="412" r="3.15" fill="#808080"/>
<text x="246.2" y="414.75" font-size="7.7" text-anchor="start">Control</text>
<circle cx="242.2" cy="421.2" r="3.15" fill="#ffff00"/>
<text x="246.2" y="423.95" font-size="7.7" text-anchor="start">Metformin 0.25 mmol/l</text>
<circle cx="242.2" cy="430.4" r="3.15" fill="#ffc000"/>
<text x="246.2" y="433.15" font-size="7.7" text-anchor="start">Metformin 1 mmol/l</text>
<circle cx="242.2" cy="439.6" r="3.15" fill="#ff0000"/>
<text x="246.2" y="442.35" font-size="7.7" text-anchor="start">Metformin 3 mmol/l</text>
<circle cx="242.2" cy="448.8" r="3.15" fill="#c00000"/>
<text x="246.2" y="451.55" font-size="7.7" text-anchor="start">Metformin 10 mmol/</text>
<line x1="379.8" y1="495.6" x2="379.8" y2="405.3" stroke="#a6a6a6" stroke-width="1"/>
<line x1="379.8" y1="495.6" x2="617.96" y2="495.6" stroke="#a6a6a6" stroke-width="1"/>
<line x1="379.8" y1="495.6" x2="377.3" y2="495.6" stroke="#a6a6a6" stroke-width="1"/>
<text x="373.2" y="498.35" font-size="7.7" text-anchor="end">0.0</text>
<line x1="379.8" y1="482.7" x2="377.3" y2="482.7" stroke="#a6a6a6" stroke-width="1"/>
<text x="373.2" y="485.45" font-size="7.7" text-anchor="end">2.0</text>
<line x1="379.8" y1="469.8" x2="377.3" y2="469.8" stroke="#a6a6a6" stroke-width="1"/>
<text x="373.2" y="472.55" font-size="7.7" text-anchor="end">4.0</text>
<line x1="379.8" y1="456.9" x2="377.3" y2="456.9" stroke="#a6a6a6" stroke-width="1"/>
<text x="373.2" y="459.65" font-size="7.7" text-anchor="end">6.0</text>
<line x1="379.8" y1="444" x2="377.3" y2="444" stroke="#a6a6a6" stroke-width="1"/>
<text x="373.2" y="446.75" font-size="7.7" text-anchor="end">8.0</text>
<line x1="379.8" y1="431.1" x2="377.3" y2="431.1" stroke="#a6a6a6" stroke-width="1"/>
<text x="373.2" y="433.85" font-size="7.7" text-anchor="end">10.0</text>
<line x1="379.8" y1="418.2" x2="377.3" y2="418.2" stroke="#a6a6a6" stroke-width="1"/>
<text x="373.2" y="420.95" font-size="7.7" text-anchor="end">12.0</text>
<line x1="379.8" y1="405.3" x2="377.3" y2="405.3" stroke="#a6a6a6" stroke-width="1"/>
<text x="373.2" y="408.05" font-size="7.7" text-anchor="end">14.0</text>
<line x1="379.8" y1="495.6" x2="379.8" y2="498.1" stroke="#a6a6a6" stroke-width="1"/>
<text x="379.8" y="507.2" font-size="7.7" text-anchor="middle">0</text>
<line x1="409.57" y1="495.6" x2="409.57" y2="498.1" stroke="#a6a6a6" stroke-width="1"/>
<text x="409.57" y="507.2" font-size="7.7" text-anchor="middle">10</text>
<line x1="439.34" y1="495.6" x2="439.34" y2="498.1" stroke="#a6a6a6" stroke-width="1"/>
<text x="439.34" y="507.2" font-size="7.7" text-anchor="middle">20</text>
<line x1="469.11" y1="495.6" x2="469.11" y2="498.1" stroke="#a6a6a6" stroke-width="1"/>
<text x="469.11" y="507.2" font-size="7.7" text-anchor="middle">30</text>
<line x1="498.88" y1="495.6" x2="498.88" y2="498.1" stroke="#a6a6a6" stroke-width="1"/>
<text x="498.88" y="507.2" font-size="7.7" text-anchor="middle">40</text>
<line x1="528.65" y1="495.6" x2="528.65" y2="498.1" stroke="#a6a6a6" stroke-width="1"/>
<text x="528.65" y="507.2" font-size="7.7" text-anchor="middle">50</text>
<line x1="558.42" y1="495.6" x2="558.42" y2="498.1" stroke="#a6a6a6" stroke-width="1"/>
<text x="558.42" y="507.2" font-size="7.7" text-anchor="middle">60</text>
<line x1="588.19" y1="495.6" x2="588.19" y2="498.1" stroke="#a6a6a6" stroke-width="1"/>
<text x="588.19" y="507.2" font-size="7.7" text-anchor="middle">70</text>
<line x1="617.96" y1="495.6" x2="617.96" y2="498.1" stroke="#a6a6a6" stroke-width="1"/>
<text x="617.96" y="507.2" font-size="7.7" text-anchor="middle">80</text>
<text x="498.8" y="520.3" font-size="7.7" text-anchor="middle" font-weight="bold">Time (min)</text>
<text x="0" y="0" font-size="7.7" font-weight="bold" text-anchor="middle" transform="translate(352,450.5) rotate(-90)">OCR (pmol/min/ug)</text>
<text x="423.5" y="410.3" font-size="7.7" text-anchor="middle">Oligomycin</text>
<text x="479.8" y="404.8" font-size="7.7" text-anchor="middle">FCCP</text>
<text x="536.6" y="390.3" font-size="7.7" text-anchor="middle">Rotenone/Antimycin A</text>
<line x1="423" y1="417.5" x2="423" y2="443.7" stroke="#000" stroke-width="1.55"/>
<path d="M419.2 443.2 L426.8 443.2 L423 450.5 Z" fill="#000"/>
<line x1="481" y1="413.8" x2="481" y2="460.4" stroke="#000" stroke-width="1.55"/>
<path d="M477.2 459.9 L484.8 459.9 L481 467.2 Z" fill="#000"/>
<line x1="542.5" y1="392.5" x2="542.5" y2="398.7" stroke="#000" stroke-width="1.55"/>
<path d="M538.7 398.2 L546.3 398.2 L542.5 405.5 Z" fill="#000"/>
<path d="M383.8 467.22 L403.58 468.51 L423.36 468.51 L443.14 480.12 L462.92 480.77 L482.7 480.77 L502.48 426.91 L522.26 425.94 L542.04 423.36 L561.82 478.83 L581.6 480.12 L601.38 480.12" fill="none" stroke="#000" stroke-width="1.6" stroke-linejoin="round"/>
<path d="M383.8 465.93 L403.58 467.87 L423.36 467.87 L443.14 479.48 L462.92 480.12 L482.7 480.12 L502.48 433.04 L522.26 432.39 L542.04 429.81 L561.82 478.83 L581.6 479.48 L601.38 479.48" fill="none" stroke="#000" stroke-width="1.6" stroke-linejoin="round"/>
<path d="M383.8 471.09 L403.58 473.03 L423.36 473.67 L443.14 482.7 L462.92 482.7 L482.7 482.7 L502.48 444.65 L522.26 442.71 L542.04 441.42 L561.82 481.41 L581.6 482.06 L601.38 482.06" fill="none" stroke="#000" stroke-width="1.6" stroke-linejoin="round"/>
<path d="M383.8 480.12 L403.58 480.77 L423.36 480.77 L443.14 485.28 L462.92 485.28 L482.7 485.28 L502.48 456.25 L522.26 454.97 L542.04 454.97 L561.82 483.99 L581.6 483.99 L601.38 483.99" fill="none" stroke="#000" stroke-width="1.6" stroke-linejoin="round"/>
<path d="M383.8 483.35 L403.58 483.99 L423.36 483.99 L443.14 486.57 L462.92 486.57 L482.7 486.57 L502.48 458.19 L522.26 457.55 L542.04 457.55 L561.82 485.28 L581.6 485.28 L601.38 485.28" fill="none" stroke="#000" stroke-width="1.6" stroke-linejoin="round"/>
<line x1="502.48" y1="413.36" x2="502.48" y2="440.45" stroke="#000" stroke-width="1"/>
<line x1="499.88" y1="413.36" x2="505.08" y2="413.36" stroke="#000" stroke-width="1.2"/>
<line x1="499.88" y1="440.45" x2="505.08" y2="440.45" stroke="#000" stroke-width="1.2"/>
<line x1="522.26" y1="413.04" x2="522.26" y2="438.84" stroke="#000" stroke-width="1"/>
<line x1="519.66" y1="413.04" x2="524.86" y2="413.04" stroke="#000" stroke-width="1.2"/>
<line x1="519.66" y1="438.84" x2="524.86" y2="438.84" stroke="#000" stroke-width="1.2"/>
<line x1="542.04" y1="410.46" x2="542.04" y2="436.26" stroke="#000" stroke-width="1"/>
<line x1="539.44" y1="410.46" x2="544.64" y2="410.46" stroke="#000" stroke-width="1.2"/>
<line x1="539.44" y1="436.26" x2="544.64" y2="436.26" stroke="#000" stroke-width="1.2"/>
<circle cx="383.8" cy="467.22" r="3.55" fill="#808080" stroke="#000" stroke-width="1.15"/>
<circle cx="403.58" cy="468.51" r="3.55" fill="#808080" stroke="#000" stroke-width="1.15"/>
<circle cx="423.36" cy="468.51" r="3.55" fill="#808080" stroke="#000" stroke-width="1.15"/>
<circle cx="443.14" cy="480.12" r="3.55" fill="#808080" stroke="#000" stroke-width="1.15"/>
<circle cx="462.92" cy="480.77" r="3.55" fill="#808080" stroke="#000" stroke-width="1.15"/>
<circle cx="482.7" cy="480.77" r="3.55" fill="#808080" stroke="#000" stroke-width="1.15"/>
<circle cx="502.48" cy="426.91" r="3.55" fill="#808080" stroke="#000" stroke-width="1.15"/>
<circle cx="522.26" cy="425.94" r="3.55" fill="#808080" stroke="#000" stroke-width="1.15"/>
<circle cx="542.04" cy="423.36" r="3.55" fill="#808080" stroke="#000" stroke-width="1.15"/>
<circle cx="561.82" cy="478.83" r="3.55" fill="#808080" stroke="#000" stroke-width="1.15"/>
<circle cx="581.6" cy="480.12" r="3.55" fill="#808080" stroke="#000" stroke-width="1.15"/>
<circle cx="601.38" cy="480.12" r="3.55" fill="#808080" stroke="#000" stroke-width="1.15"/>
<line x1="383.8" y1="458.19" x2="383.8" y2="473.67" stroke="#000" stroke-width="1"/>
<line x1="381.2" y1="458.19" x2="386.4" y2="458.19" stroke="#000" stroke-width="1.2"/>
<line x1="381.2" y1="473.67" x2="386.4" y2="473.67" stroke="#000" stroke-width="1.2"/>
<line x1="403.58" y1="460.12" x2="403.58" y2="475.61" stroke="#000" stroke-width="1"/>
<line x1="400.98" y1="460.12" x2="406.18" y2="460.12" stroke="#000" stroke-width="1.2"/>
<line x1="400.98" y1="475.61" x2="406.18" y2="475.61" stroke="#000" stroke-width="1.2"/>
<line x1="423.36" y1="461.42" x2="423.36" y2="474.31" stroke="#000" stroke-width="1"/>
<line x1="420.76" y1="461.42" x2="425.96" y2="461.42" stroke="#000" stroke-width="1.2"/>
<line x1="420.76" y1="474.31" x2="425.96" y2="474.31" stroke="#000" stroke-width="1.2"/>
<circle cx="383.8" cy="465.93" r="3.55" fill="#00b0f0" stroke="#000" stroke-width="1.15"/>
<circle cx="403.58" cy="467.87" r="3.55" fill="#00b0f0" stroke="#000" stroke-width="1.15"/>
<circle cx="423.36" cy="467.87" r="3.55" fill="#00b0f0" stroke="#000" stroke-width="1.15"/>
<circle cx="443.14" cy="479.48" r="3.55" fill="#00b0f0" stroke="#000" stroke-width="1.15"/>
<circle cx="462.92" cy="480.12" r="3.55" fill="#00b0f0" stroke="#000" stroke-width="1.15"/>
<circle cx="482.7" cy="480.12" r="3.55" fill="#00b0f0" stroke="#000" stroke-width="1.15"/>
<circle cx="502.48" cy="433.04" r="3.55" fill="#00b0f0" stroke="#000" stroke-width="1.15"/>
<circle cx="522.26" cy="432.39" r="3.55" fill="#00b0f0" stroke="#000" stroke-width="1.15"/>
<circle cx="542.04" cy="429.81" r="3.55" fill="#00b0f0" stroke="#000" stroke-width="1.15"/>
<circle cx="561.82" cy="478.83" r="3.55" fill="#00b0f0" stroke="#000" stroke-width="1.15"/>
<circle cx="581.6" cy="479.48" r="3.55" fill="#00b0f0" stroke="#000" stroke-width="1.15"/>
<circle cx="601.38" cy="479.48" r="3.55" fill="#00b0f0" stroke="#000" stroke-width="1.15"/>
<circle cx="383.8" cy="471.09" r="3.55" fill="#0070c0" stroke="#000" stroke-width="1.15"/>
<circle cx="403.58" cy="473.03" r="3.55" fill="#0070c0" stroke="#000" stroke-width="1.15"/>
<circle cx="423.36" cy="473.67" r="3.55" fill="#0070c0" stroke="#000" stroke-width="1.15"/>
<circle cx="443.14" cy="482.7" r="3.55" fill="#0070c0" stroke="#000" stroke-width="1.15"/>
<circle cx="462.92" cy="482.7" r="3.55" fill="#0070c0" stroke="#000" stroke-width="1.15"/>
<circle cx="482.7" cy="482.7" r="3.55" fill="#0070c0" stroke="#000" stroke-width="1.15"/>
<circle cx="502.48" cy="444.65" r="3.55" fill="#0070c0" stroke="#000" stroke-width="1.15"/>
<circle cx="522.26" cy="442.71" r="3.55" fill="#0070c0" stroke="#000" stroke-width="1.15"/>
<circle cx="542.04" cy="441.42" r="3.55" fill="#0070c0" stroke="#000" stroke-width="1.15"/>
<circle cx="561.82" cy="481.41" r="3.55" fill="#0070c0" stroke="#000" stroke-width="1.15"/>
<circle cx="581.6" cy="482.06" r="3.55" fill="#0070c0" stroke="#000" stroke-width="1.15"/>
<circle cx="601.38" cy="482.06" r="3.55" fill="#0070c0" stroke="#000" stroke-width="1.15"/>
<circle cx="383.8" cy="480.12" r="3.55" fill="#7030a0" stroke="#000" stroke-width="1.15"/>
<circle cx="403.58" cy="480.77" r="3.55" fill="#7030a0" stroke="#000" stroke-width="1.15"/>
<circle cx="423.36" cy="480.77" r="3.55" fill="#7030a0" stroke="#000" stroke-width="1.15"/>
<circle cx="443.14" cy="485.28" r="3.55" fill="#7030a0" stroke="#000" stroke-width="1.15"/>
<circle cx="462.92" cy="485.28" r="3.55" fill="#7030a0" stroke="#000" stroke-width="1.15"/>
<circle cx="482.7" cy="485.28" r="3.55" fill="#7030a0" stroke="#000" stroke-width="1.15"/>
<circle cx="502.48" cy="456.25" r="3.55" fill="#7030a0" stroke="#000" stroke-width="1.15"/>
<circle cx="522.26" cy="454.97" r="3.55" fill="#7030a0" stroke="#000" stroke-width="1.15"/>
<circle cx="542.04" cy="454.97" r="3.55" fill="#7030a0" stroke="#000" stroke-width="1.15"/>
<circle cx="561.82" cy="483.99" r="3.55" fill="#7030a0" stroke="#000" stroke-width="1.15"/>
<circle cx="581.6" cy="483.99" r="3.55" fill="#7030a0" stroke="#000" stroke-width="1.15"/>
<circle cx="601.38" cy="483.99" r="3.55" fill="#7030a0" stroke="#000" stroke-width="1.15"/>
<circle cx="383.8" cy="483.35" r="3.55" fill="#112d70" stroke="#000" stroke-width="1.15"/>
<circle cx="403.58" cy="483.99" r="3.55" fill="#112d70" stroke="#000" stroke-width="1.15"/>
<circle cx="423.36" cy="483.99" r="3.55" fill="#112d70" stroke="#000" stroke-width="1.15"/>
<circle cx="443.14" cy="486.57" r="3.55" fill="#112d70" stroke="#000" stroke-width="1.15"/>
<circle cx="462.92" cy="486.57" r="3.55" fill="#112d70" stroke="#000" stroke-width="1.15"/>
<circle cx="482.7" cy="486.57" r="3.55" fill="#112d70" stroke="#000" stroke-width="1.15"/>
<circle cx="502.48" cy="458.19" r="3.55" fill="#112d70" stroke="#000" stroke-width="1.15"/>
<circle cx="522.26" cy="457.55" r="3.55" fill="#112d70" stroke="#000" stroke-width="1.15"/>
<circle cx="542.04" cy="457.55" r="3.55" fill="#112d70" stroke="#000" stroke-width="1.15"/>
<circle cx="561.82" cy="485.28" r="3.55" fill="#112d70" stroke="#000" stroke-width="1.15"/>
<circle cx="581.6" cy="485.28" r="3.55" fill="#112d70" stroke="#000" stroke-width="1.15"/>
<circle cx="601.38" cy="485.28" r="3.55" fill="#112d70" stroke="#000" stroke-width="1.15"/>
<circle cx="568.8" cy="409.4" r="3.15" fill="#808080"/>
<text x="572.8" y="412.15" font-size="7.7" text-anchor="start">Control</text>
<circle cx="568.8" cy="418.68" r="3.15" fill="#00b0f0"/>
<text x="572.8" y="421.43" font-size="7.7" text-anchor="start">Imeglimin 0.25 mmol/l</text>
<circle cx="568.8" cy="427.96" r="3.15" fill="#0070c0"/>
<text x="572.8" y="430.71" font-size="7.7" text-anchor="start">Imeglimin 1 mmol/l</text>
<circle cx="568.8" cy="437.24" r="3.15" fill="#7030a0"/>
<text x="572.8" y="439.99" font-size="7.7" text-anchor="start">Imeglimin 3 mmol/l</text>
<circle cx="568.8" cy="446.52" r="3.15" fill="#112d70"/>
<text x="572.8" y="449.27" font-size="7.7" text-anchor="start">Imeglimin 10 mmol/</text>
<rect x="39.8" y="286.9" width="15" height="41.1" fill="#808080" stroke="#000" stroke-width="1.65"/>
<rect x="65" y="295.81" width="15" height="32.19" fill="#ff0000" stroke="#000" stroke-width="1.65"/>
<rect x="90.2" y="309.65" width="15" height="18.35" fill="#ff0000" stroke="#000" stroke-width="1.65"/>
<rect x="115.4" y="323.62" width="15" height="4.38" fill="#ff0000" stroke="#000" stroke-width="1.65"/>
<rect x="140.6" y="293.62" width="15" height="34.38" fill="#0000ff" stroke="#000" stroke-width="1.65"/>
<rect x="165.8" y="304.71" width="15" height="23.29" fill="#0000ff" stroke="#000" stroke-width="1.65"/>
<rect x="191" y="317.73" width="15" height="10.27" fill="#0000ff" stroke="#000" stroke-width="1.65"/>
<line x1="47.3" y1="283.75" x2="47.3" y2="287.86" stroke="#000" stroke-width="1.1"/>
<line x1="44.8" y1="283.75" x2="49.8" y2="283.75" stroke="#000" stroke-width="1.1"/>
<line x1="44.8" y1="287.86" x2="49.8" y2="287.86" stroke="#000" stroke-width="1.1"/>
<circle cx="44.4" cy="283.48" r="1.85" fill="#000"/>
<circle cx="50.2" cy="287.58" r="1.85" fill="#000"/>
<circle cx="47.3" cy="289.64" r="1.85" fill="#000"/>
<line x1="72.5" y1="293.89" x2="72.5" y2="295.53" stroke="#000" stroke-width="1.1"/>
<line x1="70" y1="293.89" x2="75" y2="293.89" stroke="#000" stroke-width="1.1"/>
<line x1="70" y1="295.53" x2="75" y2="295.53" stroke="#000" stroke-width="1.1"/>
<circle cx="72.5" cy="293.06" r="1.85" fill="#000"/>
<circle cx="69.6" cy="295.12" r="1.85" fill="#000"/>
<circle cx="75.4" cy="294.44" r="1.85" fill="#000"/>
<line x1="97.7" y1="307.86" x2="97.7" y2="309.23" stroke="#000" stroke-width="1.1"/>
<line x1="95.2" y1="307.86" x2="100.2" y2="307.86" stroke="#000" stroke-width="1.1"/>
<line x1="95.2" y1="309.23" x2="100.2" y2="309.23" stroke="#000" stroke-width="1.1"/>
<circle cx="97.7" cy="307.72" r="1.85" fill="#000"/>
<circle cx="94.8" cy="309.09" r="1.85" fill="#000"/>
<circle cx="100.6" cy="308.41" r="1.85" fill="#000"/>
<circle cx="122.9" cy="321.83" r="1.85" fill="#000"/>
<circle cx="120" cy="322.79" r="1.85" fill="#000"/>
<circle cx="125.8" cy="322.66" r="1.85" fill="#000"/>
<line x1="148.1" y1="291.97" x2="148.1" y2="293.06" stroke="#000" stroke-width="1.1"/>
<line x1="145.6" y1="291.97" x2="150.6" y2="291.97" stroke="#000" stroke-width="1.1"/>
<line x1="145.6" y1="293.06" x2="150.6" y2="293.06" stroke="#000" stroke-width="1.1"/>
<circle cx="148.1" cy="291.69" r="1.85" fill="#000"/>
<circle cx="145.2" cy="292.38" r="1.85" fill="#000"/>
<circle cx="151" cy="292.11" r="1.85" fill="#000"/>
<line x1="173.3" y1="302.52" x2="173.3" y2="304.71" stroke="#000" stroke-width="1.1"/>
<line x1="170.8" y1="302.52" x2="175.8" y2="302.52" stroke="#000" stroke-width="1.1"/>
<line x1="170.8" y1="304.71" x2="175.8" y2="304.71" stroke="#000" stroke-width="1.1"/>
<circle cx="173.3" cy="302.24" r="1.85" fill="#000"/>
<circle cx="170.4" cy="304.02" r="1.85" fill="#000"/>
<circle cx="176.2" cy="304.44" r="1.85" fill="#000"/>
<line x1="198.5" y1="316.08" x2="198.5" y2="317.18" stroke="#000" stroke-width="1.1"/>
<line x1="196" y1="316.08" x2="201" y2="316.08" stroke="#000" stroke-width="1.1"/>
<line x1="196" y1="317.18" x2="201" y2="317.18" stroke="#000" stroke-width="1.1"/>
<circle cx="198.5" cy="315.94" r="1.85" fill="#000"/>
<circle cx="195.6" cy="317.04" r="1.85" fill="#000"/>
<circle cx="201.4" cy="316.63" r="1.85" fill="#000"/>
<line x1="30.7" y1="328.8" x2="30.7" y2="272.35" stroke="#000" stroke-width="1.7"/>
<line x1="23.2" y1="328" x2="217" y2="328" stroke="#000" stroke-width="1.7"/>
<line x1="23.2" y1="328" x2="30.7" y2="328" stroke="#000" stroke-width="1.6"/>
<text x="20.9" y="330.6" font-size="7.7" text-anchor="end">0</text>
<line x1="23.2" y1="314.3" x2="30.7" y2="314.3" stroke="#000" stroke-width="1.6"/>
<text x="20.9" y="316.9" font-size="7.7" text-anchor="end">10</text>
<line x1="23.2" y1="300.6" x2="30.7" y2="300.6" stroke="#000" stroke-width="1.6"/>
<text x="20.9" y="303.2" font-size="7.7" text-anchor="end">20</text>
<line x1="23.2" y1="286.9" x2="30.7" y2="286.9" stroke="#000" stroke-width="1.6"/>
<text x="20.9" y="289.5" font-size="7.7" text-anchor="end">30</text>
<line x1="23.2" y1="273.2" x2="30.7" y2="273.2" stroke="#000" stroke-width="1.6"/>
<text x="20.9" y="275.8" font-size="7.7" text-anchor="end">40</text>
<line x1="47.3" y1="328" x2="47.3" y2="335" stroke="#000" stroke-width="1.6"/>
<line x1="72.5" y1="328" x2="72.5" y2="335" stroke="#000" stroke-width="1.6"/>
<line x1="97.7" y1="328" x2="97.7" y2="335" stroke="#000" stroke-width="1.6"/>
<line x1="122.9" y1="328" x2="122.9" y2="335" stroke="#000" stroke-width="1.6"/>
<line x1="148.1" y1="328" x2="148.1" y2="335" stroke="#000" stroke-width="1.6"/>
<line x1="173.3" y1="328" x2="173.3" y2="335" stroke="#000" stroke-width="1.6"/>
<line x1="198.5" y1="328" x2="198.5" y2="335" stroke="#000" stroke-width="1.6"/>
<text x="72.5" y="344.2" font-size="7.7" text-anchor="middle">1</text>
<text x="97.7" y="344.2" font-size="7.7" text-anchor="middle">3</text>
<text x="122.9" y="344.2" font-size="7.7" text-anchor="middle">10</text>
<text x="148.1" y="344.2" font-size="7.7" text-anchor="middle">1</text>
<text x="173.3" y="344.2" font-size="7.7" text-anchor="middle">3</text>
<text x="198.5" y="344.2" font-size="7.7" text-anchor="middle">10</text>
<text x="206.7" y="344.2" font-size="7.7" text-anchor="start">mmol/l</text>
<text x="0" y="0" font-size="8.8" text-anchor="end" transform="translate(55.5,338.8) rotate(-50)">Control</text>
<line x1="71.6" y1="350.8" x2="125.8" y2="350.8" stroke="#000" stroke-width="1.2"/>
<text x="98.2" y="361.3" font-size="8.9" text-anchor="middle">Metformin</text>
<line x1="148.1" y1="350.8" x2="201.4" y2="350.8" stroke="#000" stroke-width="1.2"/>
<text x="173.6" y="361.3" font-size="8.9" text-anchor="middle">Imeglimin</text>
<text x="0" y="0" font-size="7.7" font-weight="bold" text-anchor="middle" transform="translate(7.1,293.4) rotate(-90)">OCR (pmol/min/ug)</text>
<path d="M47.3 254.5L47.3 245.2L148.1 245.2L148.1 254.5" fill="none" stroke="#1a1a1a" stroke-width="0.95"/>
<path d="M92.75 238.95L92.75 242.65M94.35 239.88L91.15 241.73M94.35 241.73L91.15 239.88" stroke="#000" stroke-width="1.1" fill="none"/>
<path d="M100.25 238.95L100.25 242.65M101.85 239.88L98.65 241.73M101.85 241.73L98.65 239.88" stroke="#000" stroke-width="1.1" fill="none"/>
<path d="M47.3 280.2L47.3 269.7L69 269.7L69 280.2" fill="none" stroke="#1a1a1a" stroke-width="0.95"/>
<path d="M50.65 263.45L50.65 267.15M52.25 264.38L49.05 266.23M52.25 266.23L49.05 264.38" stroke="#000" stroke-width="1.1" fill="none"/>
<path d="M58.15 263.45L58.15 267.15M59.75 264.38L56.55 266.23M59.75 266.23L56.55 264.38" stroke="#000" stroke-width="1.1" fill="none"/>
<path d="M65.65 263.45L65.65 267.15M67.25 264.38L64.05 266.23M67.25 266.23L64.05 264.38" stroke="#000" stroke-width="1.1" fill="none"/>
<path d="M76.2 271.3L76.2 260.5L94.1 260.5L94.1 271.3" fill="none" stroke="#1a1a1a" stroke-width="0.95"/>
<path d="M73.9 254.25L73.9 257.95M75.5 255.18L72.3 257.03M75.5 257.03L72.3 255.18" stroke="#000" stroke-width="1.1" fill="none"/>
<path d="M81.4 254.25L81.4 257.95M83 255.18L79.8 257.03M83 257.03L79.8 255.18" stroke="#000" stroke-width="1.1" fill="none"/>
<path d="M88.9 254.25L88.9 257.95M90.5 255.18L87.3 257.03M90.5 257.03L87.3 255.18" stroke="#000" stroke-width="1.1" fill="none"/>
<path d="M96.4 254.25L96.4 257.95M98 255.18L94.8 257.03M98 257.03L94.8 255.18" stroke="#000" stroke-width="1.1" fill="none"/>
<path d="M101.5 280.2L101.5 269.5L123.2 269.5L123.2 280.2" fill="none" stroke="#1a1a1a" stroke-width="0.95"/>
<path d="M101.1 263.25L101.1 266.95M102.7 264.18L99.5 266.03M102.7 266.03L99.5 264.18" stroke="#000" stroke-width="1.1" fill="none"/>
<path d="M108.6 263.25L108.6 266.95M110.2 264.18L107 266.03M110.2 266.03L107 264.18" stroke="#000" stroke-width="1.1" fill="none"/>
<path d="M116.1 263.25L116.1 266.95M117.7 264.18L114.5 266.03M117.7 266.03L114.5 264.18" stroke="#000" stroke-width="1.1" fill="none"/>
<path d="M123.6 263.25L123.6 266.95M125.2 264.18L122 266.03M125.2 266.03L122 264.18" stroke="#000" stroke-width="1.1" fill="none"/>
<path d="M148.1 280.2L148.1 269.5L169.8 269.5L169.8 280.2" fill="none" stroke="#1a1a1a" stroke-width="0.95"/>
<path d="M147.7 263.25L147.7 266.95M149.3 264.18L146.1 266.03M149.3 266.03L146.1 264.18" stroke="#000" stroke-width="1.1" fill="none"/>
<path d="M155.2 263.25L155.2 266.95M156.8 264.18L153.6 266.03M156.8 266.03L153.6 264.18" stroke="#000" stroke-width="1.1" fill="none"/>
<path d="M162.7 263.25L162.7 266.95M164.3 264.18L161.1 266.03M164.3 266.03L161.1 264.18" stroke="#000" stroke-width="1.1" fill="none"/>
<path d="M170.2 263.25L170.2 266.95M171.8 264.18L168.6 266.03M171.8 266.03L168.6 264.18" stroke="#000" stroke-width="1.1" fill="none"/>
<path d="M176.4 271.3L176.4 259.5L199 259.5L199 271.3" fill="none" stroke="#1a1a1a" stroke-width="0.95"/>
<path d="M176.45 253.25L176.45 256.95M178.05 254.17L174.85 256.02M178.05 256.02L174.85 254.17" stroke="#000" stroke-width="1.1" fill="none"/>
<path d="M183.95 253.25L183.95 256.95M185.55 254.17L182.35 256.02M185.55 256.02L182.35 254.17" stroke="#000" stroke-width="1.1" fill="none"/>
<path d="M191.45 253.25L191.45 256.95M193.05 254.17L189.85 256.02M193.05 256.02L189.85 254.17" stroke="#000" stroke-width="1.1" fill="none"/>
<path d="M198.95 253.25L198.95 256.95M200.55 254.17L197.35 256.02M200.55 256.02L197.35 254.17" stroke="#000" stroke-width="1.1" fill="none"/>
<rect x="263.3" y="282.57" width="15" height="45.43" fill="#808080" stroke="#000" stroke-width="1.65"/>
<rect x="288.55" y="291.76" width="15" height="36.24" fill="#ff0000" stroke="#000" stroke-width="1.65"/>
<rect x="313.8" y="307.19" width="15" height="20.81" fill="#ff0000" stroke="#000" stroke-width="1.65"/>
<rect x="339.05" y="323.91" width="15" height="4.09" fill="#ff0000" stroke="#000" stroke-width="1.65"/>
<rect x="364.3" y="290.84" width="15" height="37.16" fill="#0000ff" stroke="#000" stroke-width="1.65"/>
<rect x="389.55" y="303.15" width="15" height="24.85" fill="#0000ff" stroke="#000" stroke-width="1.65"/>
<rect x="414.8" y="317.48" width="15" height="10.52" fill="#0000ff" stroke="#000" stroke-width="1.65"/>
<line x1="270.8" y1="279.32" x2="270.8" y2="284.83" stroke="#000" stroke-width="1.1"/>
<line x1="268.3" y1="279.32" x2="273.3" y2="279.32" stroke="#000" stroke-width="1.1"/>
<line x1="268.3" y1="284.83" x2="273.3" y2="284.83" stroke="#000" stroke-width="1.1"/>
<circle cx="270.8" cy="278.4" r="1.85" fill="#000"/>
<circle cx="267.9" cy="283.91" r="1.85" fill="#000"/>
<circle cx="273.7" cy="280.24" r="1.85" fill="#000"/>
<circle cx="270.8" cy="285.75" r="1.85" fill="#000"/>
<line x1="296.05" y1="290.34" x2="296.05" y2="292.18" stroke="#000" stroke-width="1.1"/>
<line x1="293.55" y1="290.34" x2="298.55" y2="290.34" stroke="#000" stroke-width="1.1"/>
<line x1="293.55" y1="292.18" x2="298.55" y2="292.18" stroke="#000" stroke-width="1.1"/>
<circle cx="296.05" cy="289.79" r="1.85" fill="#000"/>
<circle cx="293.15" cy="292.18" r="1.85" fill="#000"/>
<circle cx="298.95" cy="290.89" r="1.85" fill="#000"/>
<line x1="321.3" y1="305.96" x2="321.3" y2="307.43" stroke="#000" stroke-width="1.1"/>
<line x1="318.8" y1="305.96" x2="323.8" y2="305.96" stroke="#000" stroke-width="1.1"/>
<line x1="318.8" y1="307.43" x2="323.8" y2="307.43" stroke="#000" stroke-width="1.1"/>
<circle cx="321.3" cy="305.59" r="1.85" fill="#000"/>
<circle cx="318.4" cy="307.24" r="1.85" fill="#000"/>
<circle cx="324.2" cy="306.32" r="1.85" fill="#000"/>
<circle cx="346.55" cy="322.49" r="1.85" fill="#000"/>
<circle cx="343.65" cy="323.59" r="1.85" fill="#000"/>
<circle cx="349.45" cy="323.22" r="1.85" fill="#000"/>
<line x1="371.8" y1="289.79" x2="371.8" y2="290.89" stroke="#000" stroke-width="1.1"/>
<line x1="369.3" y1="289.79" x2="374.3" y2="289.79" stroke="#000" stroke-width="1.1"/>
<line x1="369.3" y1="290.89" x2="374.3" y2="290.89" stroke="#000" stroke-width="1.1"/>
<circle cx="371.8" cy="289.42" r="1.85" fill="#000"/>
<circle cx="368.9" cy="290.16" r="1.85" fill="#000"/>
<circle cx="374.7" cy="289.79" r="1.85" fill="#000"/>
<line x1="397.05" y1="301.18" x2="397.05" y2="304.12" stroke="#000" stroke-width="1.1"/>
<line x1="394.55" y1="301.18" x2="399.55" y2="301.18" stroke="#000" stroke-width="1.1"/>
<line x1="394.55" y1="304.12" x2="399.55" y2="304.12" stroke="#000" stroke-width="1.1"/>
<circle cx="397.05" cy="300.81" r="1.85" fill="#000"/>
<circle cx="394.15" cy="303.2" r="1.85" fill="#000"/>
<circle cx="399.95" cy="303.75" r="1.85" fill="#000"/>
<line x1="422.3" y1="316.24" x2="422.3" y2="317.71" stroke="#000" stroke-width="1.1"/>
<line x1="419.8" y1="316.24" x2="424.8" y2="316.24" stroke="#000" stroke-width="1.1"/>
<line x1="419.8" y1="317.71" x2="424.8" y2="317.71" stroke="#000" stroke-width="1.1"/>
<circle cx="422.3" cy="316.06" r="1.85" fill="#000"/>
<circle cx="419.4" cy="317.35" r="1.85" fill="#000"/>
<circle cx="425.2" cy="316.98" r="1.85" fill="#000"/>
<line x1="253.8" y1="328.8" x2="253.8" y2="272.04" stroke="#000" stroke-width="1.7"/>
<line x1="246.3" y1="328" x2="440.5" y2="328" stroke="#000" stroke-width="1.7"/>
<line x1="246.3" y1="328" x2="253.8" y2="328" stroke="#000" stroke-width="1.6"/>
<text x="244" y="330.6" font-size="7.7" text-anchor="end">0</text>
<line x1="246.3" y1="309.63" x2="253.8" y2="309.63" stroke="#000" stroke-width="1.6"/>
<text x="244" y="312.23" font-size="7.7" text-anchor="end">10</text>
<line x1="246.3" y1="291.26" x2="253.8" y2="291.26" stroke="#000" stroke-width="1.6"/>
<text x="244" y="293.86" font-size="7.7" text-anchor="end">20</text>
<line x1="246.3" y1="272.89" x2="253.8" y2="272.89" stroke="#000" stroke-width="1.6"/>
<text x="244" y="275.49" font-size="7.7" text-anchor="end">30</text>
<line x1="270.8" y1="328" x2="270.8" y2="335" stroke="#000" stroke-width="1.6"/>
<line x1="296.05" y1="328" x2="296.05" y2="335" stroke="#000" stroke-width="1.6"/>
<line x1="321.3" y1="328" x2="321.3" y2="335" stroke="#000" stroke-width="1.6"/>
<line x1="346.55" y1="328" x2="346.55" y2="335" stroke="#000" stroke-width="1.6"/>
<line x1="371.8" y1="328" x2="371.8" y2="335" stroke="#000" stroke-width="1.6"/>
<line x1="397.05" y1="328" x2="397.05" y2="335" stroke="#000" stroke-width="1.6"/>
<line x1="422.3" y1="328" x2="422.3" y2="335" stroke="#000" stroke-width="1.6"/>
<text x="296.05" y="344.2" font-size="7.7" text-anchor="middle">1</text>
<text x="321.3" y="344.2" font-size="7.7" text-anchor="middle">3</text>
<text x="346.55" y="344.2" font-size="7.7" text-anchor="middle">10</text>
<text x="371.8" y="344.2" font-size="7.7" text-anchor="middle">1</text>
<text x="397.05" y="344.2" font-size="7.7" text-anchor="middle">3</text>
<text x="422.3" y="344.2" font-size="7.7" text-anchor="middle">10</text>
<text x="429.8" y="344.2" font-size="7.7" text-anchor="start">mmol/l</text>
<text x="0" y="0" font-size="8.8" text-anchor="end" transform="translate(280.8,339.3) rotate(-50)">Control</text>
<line x1="295.6" y1="350.8" x2="349.8" y2="350.8" stroke="#000" stroke-width="1.2"/>
<text x="322.2" y="361.3" font-size="8.9" text-anchor="middle">Metformin</text>
<line x1="372.1" y1="350.8" x2="425.4" y2="350.8" stroke="#000" stroke-width="1.2"/>
<text x="397.6" y="361.3" font-size="8.9" text-anchor="middle">Imeglimin</text>
<text x="0" y="0" font-size="7.7" font-weight="bold" text-anchor="middle" transform="translate(231.4,289.3) rotate(-90)">OCR (pmol/min/ug)</text>
<path d="M270.3 247.2L270.3 236.6L371.8 236.6L371.8 247.2" fill="none" stroke="#1a1a1a" stroke-width="0.95"/>
<path d="M317.15 230.15L317.15 233.85M318.75 231.07L315.55 232.93M318.75 232.93L315.55 231.07" stroke="#000" stroke-width="1.1" fill="none"/>
<path d="M324.65 230.15L324.65 233.85M326.25 231.07L323.05 232.93M326.25 232.93L323.05 231.07" stroke="#000" stroke-width="1.1" fill="none"/>
<path d="M270.3 273.9L270.3 263.9L292.6 263.9L292.6 273.9" fill="none" stroke="#1a1a1a" stroke-width="0.95"/>
<path d="M273.95 257.65L273.95 261.35M275.55 258.57L272.35 260.43M275.55 260.43L272.35 258.57" stroke="#000" stroke-width="1.1" fill="none"/>
<path d="M281.45 257.65L281.45 261.35M283.05 258.57L279.85 260.43M283.05 260.43L279.85 258.57" stroke="#000" stroke-width="1.1" fill="none"/>
<path d="M288.95 257.65L288.95 261.35M290.55 258.57L287.35 260.43M290.55 260.43L287.35 258.57" stroke="#000" stroke-width="1.1" fill="none"/>
<path d="M299.2 263.2L299.2 251.6L317.5 251.6L317.5 263.2" fill="none" stroke="#1a1a1a" stroke-width="0.95"/>
<path d="M297.1 245.35L297.1 249.05M298.7 246.27L295.5 248.12M298.7 248.12L295.5 246.27" stroke="#000" stroke-width="1.1" fill="none"/>
<path d="M304.6 245.35L304.6 249.05M306.2 246.27L303 248.12M306.2 248.12L303 246.27" stroke="#000" stroke-width="1.1" fill="none"/>
<path d="M312.1 245.35L312.1 249.05M313.7 246.27L310.5 248.12M313.7 248.12L310.5 246.27" stroke="#000" stroke-width="1.1" fill="none"/>
<path d="M319.6 245.35L319.6 249.05M321.2 246.27L318 248.12M321.2 248.12L318 246.27" stroke="#000" stroke-width="1.1" fill="none"/>
<path d="M324.5 273.9L324.5 263.9L346.5 263.9L346.5 273.9" fill="none" stroke="#1a1a1a" stroke-width="0.95"/>
<path d="M324.25 257.65L324.25 261.35M325.85 258.57L322.65 260.43M325.85 260.43L322.65 258.57" stroke="#000" stroke-width="1.1" fill="none"/>
<path d="M331.75 257.65L331.75 261.35M333.35 258.57L330.15 260.43M333.35 260.43L330.15 258.57" stroke="#000" stroke-width="1.1" fill="none"/>
<path d="M339.25 257.65L339.25 261.35M340.85 258.57L337.65 260.43M340.85 260.43L337.65 258.57" stroke="#000" stroke-width="1.1" fill="none"/>
<path d="M346.75 257.65L346.75 261.35M348.35 258.57L345.15 260.43M348.35 260.43L345.15 258.57" stroke="#000" stroke-width="1.1" fill="none"/>
<path d="M371.5 273.9L371.5 263.9L393.1 263.9L393.1 273.9" fill="none" stroke="#1a1a1a" stroke-width="0.95"/>
<path d="M371.05 257.65L371.05 261.35M372.65 258.57L369.45 260.43M372.65 260.43L369.45 258.57" stroke="#000" stroke-width="1.1" fill="none"/>
<path d="M378.55 257.65L378.55 261.35M380.15 258.57L376.95 260.43M380.15 260.43L376.95 258.57" stroke="#000" stroke-width="1.1" fill="none"/>
<path d="M386.05 257.65L386.05 261.35M387.65 258.57L384.45 260.43M387.65 260.43L384.45 258.57" stroke="#000" stroke-width="1.1" fill="none"/>
<path d="M393.55 257.65L393.55 261.35M395.15 258.57L391.95 260.43M395.15 260.43L391.95 258.57" stroke="#000" stroke-width="1.1" fill="none"/>
<path d="M400.4 263.2L400.4 251.6L422.4 251.6L422.4 263.2" fill="none" stroke="#1a1a1a" stroke-width="0.95"/>
<path d="M400.15 245.35L400.15 249.05M401.75 246.27L398.55 248.12M401.75 248.12L398.55 246.27" stroke="#000" stroke-width="1.1" fill="none"/>
<path d="M407.65 245.35L407.65 249.05M409.25 246.27L406.05 248.12M409.25 248.12L406.05 246.27" stroke="#000" stroke-width="1.1" fill="none"/>
<path d="M415.15 245.35L415.15 249.05M416.75 246.27L413.55 248.12M416.75 248.12L413.55 246.27" stroke="#000" stroke-width="1.1" fill="none"/>
<path d="M422.65 245.35L422.65 249.05M424.25 246.27L421.05 248.12M424.25 248.12L421.05 246.27" stroke="#000" stroke-width="1.1" fill="none"/>
<rect x="483.3" y="298.12" width="15" height="29.78" fill="#808080" stroke="#000" stroke-width="1.65"/>
<rect x="508.65" y="286.68" width="15" height="41.22" fill="#ff0000" stroke="#000" stroke-width="1.65"/>
<rect x="534" y="302.23" width="15" height="25.67" fill="#ff0000" stroke="#000" stroke-width="1.65"/>
<rect x="559.35" y="310.93" width="15" height="16.97" fill="#ff0000" stroke="#000" stroke-width="1.65"/>
<rect x="584.7" y="291.55" width="15" height="36.35" fill="#0000ff" stroke="#000" stroke-width="1.65"/>
<rect x="610.05" y="288.88" width="15" height="39.02" fill="#0000ff" stroke="#000" stroke-width="1.65"/>
<rect x="635.4" y="298.26" width="15" height="29.64" fill="#0000ff" stroke="#000" stroke-width="1.65"/>
<line x1="490.8" y1="296.25" x2="490.8" y2="298.99" stroke="#000" stroke-width="1.1"/>
<line x1="488.3" y1="296.25" x2="493.3" y2="296.25" stroke="#000" stroke-width="1.1"/>
<line x1="488.3" y1="298.99" x2="493.3" y2="298.99" stroke="#000" stroke-width="1.1"/>
<circle cx="490.8" cy="295.7" r="1.85" fill="#000"/>
<circle cx="487.9" cy="299.13" r="1.85" fill="#000"/>
<circle cx="493.7" cy="297.76" r="1.85" fill="#000"/>
<line x1="516.15" y1="285.5" x2="516.15" y2="286.87" stroke="#000" stroke-width="1.1"/>
<line x1="513.65" y1="285.5" x2="518.65" y2="285.5" stroke="#000" stroke-width="1.1"/>
<line x1="513.65" y1="286.87" x2="518.65" y2="286.87" stroke="#000" stroke-width="1.1"/>
<circle cx="516.15" cy="285.09" r="1.85" fill="#000"/>
<circle cx="513.25" cy="286.11" r="1.85" fill="#000"/>
<circle cx="519.05" cy="285.77" r="1.85" fill="#000"/>
<line x1="541.5" y1="301.32" x2="541.5" y2="302.14" stroke="#000" stroke-width="1.1"/>
<line x1="539" y1="301.32" x2="544" y2="301.32" stroke="#000" stroke-width="1.1"/>
<line x1="539" y1="302.14" x2="544" y2="302.14" stroke="#000" stroke-width="1.1"/>
<circle cx="541.5" cy="300.84" r="1.85" fill="#000"/>
<circle cx="538.6" cy="301.53" r="1.85" fill="#000"/>
<circle cx="544.4" cy="301.18" r="1.85" fill="#000"/>
<circle cx="566.85" cy="309.4" r="1.85" fill="#000"/>
<circle cx="563.95" cy="310.23" r="1.85" fill="#000"/>
<circle cx="569.75" cy="309.75" r="1.85" fill="#000"/>
<line x1="592.2" y1="290.77" x2="592.2" y2="291.32" stroke="#000" stroke-width="1.1"/>
<line x1="589.7" y1="290.77" x2="594.7" y2="290.77" stroke="#000" stroke-width="1.1"/>
<line x1="589.7" y1="291.32" x2="594.7" y2="291.32" stroke="#000" stroke-width="1.1"/>
<circle cx="592.2" cy="290.57" r="1.85" fill="#000"/>
<circle cx="589.3" cy="290.91" r="1.85" fill="#000"/>
<circle cx="595.1" cy="290.7" r="1.85" fill="#000"/>
<line x1="617.55" y1="287.01" x2="617.55" y2="289.75" stroke="#000" stroke-width="1.1"/>
<line x1="615.05" y1="287.01" x2="620.05" y2="287.01" stroke="#000" stroke-width="1.1"/>
<line x1="615.05" y1="289.75" x2="620.05" y2="289.75" stroke="#000" stroke-width="1.1"/>
<circle cx="617.55" cy="286.46" r="1.85" fill="#000"/>
<circle cx="614.65" cy="289.88" r="1.85" fill="#000"/>
<circle cx="620.45" cy="288.51" r="1.85" fill="#000"/>
<line x1="642.9" y1="296.73" x2="642.9" y2="298.79" stroke="#000" stroke-width="1.1"/>
<line x1="640.4" y1="296.73" x2="645.4" y2="296.73" stroke="#000" stroke-width="1.1"/>
<line x1="640.4" y1="298.79" x2="645.4" y2="298.79" stroke="#000" stroke-width="1.1"/>
<circle cx="642.9" cy="296.39" r="1.85" fill="#000"/>
<circle cx="640" cy="299.13" r="1.85" fill="#000"/>
<circle cx="645.8" cy="298.1" r="1.85" fill="#000"/>
<line x1="474" y1="328.7" x2="474" y2="272.25" stroke="#000" stroke-width="1.7"/>
<line x1="466.5" y1="327.9" x2="661" y2="327.9" stroke="#000" stroke-width="1.7"/>
<line x1="466.5" y1="327.9" x2="474" y2="327.9" stroke="#000" stroke-width="1.6"/>
<text x="464.2" y="330.5" font-size="7.7" text-anchor="end">0</text>
<line x1="466.5" y1="314.2" x2="474" y2="314.2" stroke="#000" stroke-width="1.6"/>
<text x="464.2" y="316.8" font-size="7.7" text-anchor="end">20</text>
<line x1="466.5" y1="300.5" x2="474" y2="300.5" stroke="#000" stroke-width="1.6"/>
<text x="464.2" y="303.1" font-size="7.7" text-anchor="end">40</text>
<line x1="466.5" y1="286.8" x2="474" y2="286.8" stroke="#000" stroke-width="1.6"/>
<text x="464.2" y="289.4" font-size="7.7" text-anchor="end">60</text>
<line x1="466.5" y1="273.1" x2="474" y2="273.1" stroke="#000" stroke-width="1.6"/>
<text x="464.2" y="275.7" font-size="7.7" text-anchor="end">80</text>
<line x1="490.8" y1="327.9" x2="490.8" y2="334.9" stroke="#000" stroke-width="1.6"/>
<line x1="516.15" y1="327.9" x2="516.15" y2="334.9" stroke="#000" stroke-width="1.6"/>
<line x1="541.5" y1="327.9" x2="541.5" y2="334.9" stroke="#000" stroke-width="1.6"/>
<line x1="566.85" y1="327.9" x2="566.85" y2="334.9" stroke="#000" stroke-width="1.6"/>
<line x1="592.2" y1="327.9" x2="592.2" y2="334.9" stroke="#000" stroke-width="1.6"/>
<line x1="617.55" y1="327.9" x2="617.55" y2="334.9" stroke="#000" stroke-width="1.6"/>
<line x1="642.9" y1="327.9" x2="642.9" y2="334.9" stroke="#000" stroke-width="1.6"/>
<text x="516.15" y="344.2" font-size="7.7" text-anchor="middle">1</text>
<text x="541.5" y="344.2" font-size="7.7" text-anchor="middle">3</text>
<text x="566.85" y="344.2" font-size="7.7" text-anchor="middle">10</text>
<text x="592.2" y="344.2" font-size="7.7" text-anchor="middle">1</text>
<text x="617.55" y="344.2" font-size="7.7" text-anchor="middle">3</text>
<text x="642.9" y="344.2" font-size="7.7" text-anchor="middle">10</text>
<text x="649.2" y="344.2" font-size="7.7" text-anchor="start">mmol/l</text>
<text x="0" y="0" font-size="8.8" text-anchor="end" transform="translate(500.2,339.2) rotate(-50)">Control</text>
<line x1="516.3" y1="351.3" x2="570" y2="351.3" stroke="#000" stroke-width="1.2"/>
<text x="542.3" y="361.7" font-size="8.9" text-anchor="middle">Metformin</text>
<line x1="592.4" y1="351.3" x2="646" y2="351.3" stroke="#000" stroke-width="1.2"/>
<text x="618" y="361.7" font-size="8.9" text-anchor="middle">Imeglimin</text>
<text x="0" y="0" font-size="7.7" font-weight="bold" text-anchor="middle" transform="translate(451.8,295) rotate(-90)">OCR (pmol/min/ug)</text>
<path d="M491.1 176.7L491.1 165.7L642.6 165.7L642.6 176.7" fill="none" stroke="#1a1a1a" stroke-width="0.95"/>
<text x="567.3" y="163.3" font-size="7" text-anchor="middle">ns</text>
<path d="M491.1 190.8L491.1 179.4L617.5 179.4L617.5 190.8" fill="none" stroke="#1a1a1a" stroke-width="0.95"/>
<path d="M545.5 173.25L545.5 176.95M547.1 174.17L543.9 176.03M547.1 176.03L543.9 174.17" stroke="#000" stroke-width="1.1" fill="none"/>
<path d="M553 173.25L553 176.95M554.6 174.17L551.4 176.03M554.6 176.03L551.4 174.17" stroke="#000" stroke-width="1.1" fill="none"/>
<path d="M560.5 173.25L560.5 176.95M562.1 174.17L558.9 176.03M562.1 176.03L558.9 174.17" stroke="#000" stroke-width="1.1" fill="none"/>
<path d="M491.1 203.5L491.1 192.8L592.4 192.8L592.4 203.5" fill="none" stroke="#1a1a1a" stroke-width="0.95"/>
<path d="M537.05 186.75L537.05 190.45M538.65 187.67L535.45 189.53M538.65 189.53L535.45 187.67" stroke="#000" stroke-width="1.1" fill="none"/>
<path d="M544.55 186.75L544.55 190.45M546.15 187.67L542.95 189.53M546.15 189.53L542.95 187.67" stroke="#000" stroke-width="1.1" fill="none"/>
<path d="M491.1 218.5L491.1 207.5L567.3 207.5L567.3 218.5" fill="none" stroke="#1a1a1a" stroke-width="0.95"/>
<path d="M516.75 201.05L516.75 204.75M518.35 201.97L515.15 203.83M518.35 203.83L515.15 201.97" stroke="#000" stroke-width="1.1" fill="none"/>
<path d="M524.25 201.05L524.25 204.75M525.85 201.97L522.65 203.83M525.85 203.83L522.65 201.97" stroke="#000" stroke-width="1.1" fill="none"/>
<path d="M531.75 201.05L531.75 204.75M533.35 201.97L530.15 203.83M533.35 203.83L530.15 201.97" stroke="#000" stroke-width="1.1" fill="none"/>
<path d="M539.25 201.05L539.25 204.75M540.85 201.97L537.65 203.83M540.85 203.83L537.65 201.97" stroke="#000" stroke-width="1.1" fill="none"/>
<path d="M516.2 233.6L516.2 222.5L567.3 222.5L567.3 233.6" fill="none" stroke="#1a1a1a" stroke-width="0.95"/>
<path d="M529.75 216.35L529.75 220.05M531.35 217.27L528.15 219.12M531.35 219.12L528.15 217.27" stroke="#000" stroke-width="1.1" fill="none"/>
<path d="M537.25 216.35L537.25 220.05M538.85 217.27L535.65 219.12M538.85 219.12L535.65 217.27" stroke="#000" stroke-width="1.1" fill="none"/>
<path d="M544.75 216.35L544.75 220.05M546.35 217.27L543.15 219.12M546.35 219.12L543.15 217.27" stroke="#000" stroke-width="1.1" fill="none"/>
<path d="M552.25 216.35L552.25 220.05M553.85 217.27L550.65 219.12M553.85 219.12L550.65 217.27" stroke="#000" stroke-width="1.1" fill="none"/>
<path d="M491.1 253.6L491.1 243L541.6 243L541.6 253.6" fill="none" stroke="#1a1a1a" stroke-width="0.95"/>
<text x="516.2" y="240.5" font-size="7" text-anchor="middle">ns</text>
<path d="M491.1 280.4L491.1 269.7L512.2 269.7L512.2 280.4" fill="none" stroke="#1a1a1a" stroke-width="0.95"/>
<path d="M489.25 263.45L489.25 267.15M490.85 264.38L487.65 266.23M490.85 266.23L487.65 264.38" stroke="#000" stroke-width="1.1" fill="none"/>
<path d="M496.75 263.45L496.75 267.15M498.35 264.38L495.15 266.23M498.35 266.23L495.15 264.38" stroke="#000" stroke-width="1.1" fill="none"/>
<path d="M504.25 263.45L504.25 267.15M505.85 264.38L502.65 266.23M505.85 266.23L502.65 264.38" stroke="#000" stroke-width="1.1" fill="none"/>
<path d="M511.75 263.45L511.75 267.15M513.35 264.38L510.15 266.23M513.35 266.23L510.15 264.38" stroke="#000" stroke-width="1.1" fill="none"/>
<path d="M519.9 273.7L519.9 262.7L538.3 262.7L538.3 273.7" fill="none" stroke="#1a1a1a" stroke-width="0.95"/>
<path d="M517.45 256.45L517.45 260.15M519.05 257.38L515.85 259.23M519.05 259.23L515.85 257.38" stroke="#000" stroke-width="1.1" fill="none"/>
<path d="M524.95 256.45L524.95 260.15M526.55 257.38L523.35 259.23M526.55 259.23L523.35 257.38" stroke="#000" stroke-width="1.1" fill="none"/>
<path d="M532.45 256.45L532.45 260.15M534.05 257.38L530.85 259.23M534.05 259.23L530.85 257.38" stroke="#000" stroke-width="1.1" fill="none"/>
<path d="M539.95 256.45L539.95 260.15M541.55 257.38L538.35 259.23M541.55 259.23L538.35 257.38" stroke="#000" stroke-width="1.1" fill="none"/>
<path d="M545 280.4L545 269.7L567.3 269.7L567.3 280.4" fill="none" stroke="#1a1a1a" stroke-width="0.95"/>
<path d="M548.5 263.45L548.5 267.15M550.1 264.38L546.9 266.23M550.1 266.23L546.9 264.38" stroke="#000" stroke-width="1.1" fill="none"/>
<path d="M556 263.45L556 267.15M557.6 264.38L554.4 266.23M557.6 266.23L554.4 264.38" stroke="#000" stroke-width="1.1" fill="none"/>
<path d="M563.5 263.45L563.5 267.15M565.1 264.38L561.9 266.23M565.1 266.23L561.9 264.38" stroke="#000" stroke-width="1.1" fill="none"/>
<path d="M591.8 280.4L591.8 269.7L613.1 269.7L613.1 280.4" fill="none" stroke="#1a1a1a" stroke-width="0.95"/>
<text x="602.5" y="267.1" font-size="7" text-anchor="middle">ns</text>
<path d="M620.2 280.4L620.2 269.7L642.6 269.7L642.6 280.4" fill="none" stroke="#1a1a1a" stroke-width="0.95"/>
<path d="M623.9 263.45L623.9 267.15M625.5 264.38L622.3 266.23M625.5 266.23L622.3 264.38" stroke="#000" stroke-width="1.1" fill="none"/>
<path d="M631.4 263.45L631.4 267.15M633 264.38L629.8 266.23M633 266.23L629.8 264.38" stroke="#000" stroke-width="1.1" fill="none"/>
<path d="M638.9 263.45L638.9 267.15M640.5 264.38L637.3 266.23M640.5 266.23L637.3 264.38" stroke="#000" stroke-width="1.1" fill="none"/>
<rect x="33.6" y="654.27" width="11.6" height="31.52" fill="#808080" stroke="#000" stroke-width="1.65"/>
<rect x="53.45" y="653.73" width="11.6" height="32.07" fill="#ff0000" stroke="#000" stroke-width="1.65"/>
<rect x="73.3" y="674.22" width="11.6" height="11.58" fill="#ff0000" stroke="#000" stroke-width="1.65"/>
<rect x="93.15" y="683.55" width="11.6" height="2.25" fill="#ff0000" stroke="#000" stroke-width="1.65"/>
<rect x="113" y="685.38" width="11.6" height="0.41" fill="#ff0000" stroke="#000" stroke-width="1.65"/>
<rect x="132.85" y="647.87" width="11.6" height="37.93" fill="#0000ff" stroke="#000" stroke-width="1.65"/>
<rect x="152.7" y="661.05" width="11.6" height="24.75" fill="#0000ff" stroke="#000" stroke-width="1.65"/>
<rect x="172.55" y="672.94" width="11.6" height="12.86" fill="#4343ff" stroke="#000" stroke-width="1.65"/>
<rect x="192.4" y="681.91" width="11.6" height="3.89" fill="#4343ff" stroke="#000" stroke-width="1.65"/>
<line x1="39.4" y1="650.48" x2="39.4" y2="657.07" stroke="#000" stroke-width="1.1"/>
<line x1="36.9" y1="650.48" x2="41.9" y2="650.48" stroke="#000" stroke-width="1.1"/>
<line x1="36.9" y1="657.07" x2="41.9" y2="657.07" stroke="#000" stroke-width="1.1"/>
<circle cx="36.5" cy="650.12" r="1.85" fill="#000"/>
<circle cx="42.3" cy="650.66" r="1.85" fill="#000"/>
<circle cx="39.4" cy="660.18" r="1.85" fill="#000"/>
<line x1="59.25" y1="652.31" x2="59.25" y2="654.14" stroke="#000" stroke-width="1.1"/>
<line x1="56.75" y1="652.31" x2="61.75" y2="652.31" stroke="#000" stroke-width="1.1"/>
<line x1="56.75" y1="654.14" x2="61.75" y2="654.14" stroke="#000" stroke-width="1.1"/>
<circle cx="59.25" cy="651.03" r="1.85" fill="#000"/>
<circle cx="56.35" cy="653.77" r="1.85" fill="#000"/>
<circle cx="62.15" cy="652.86" r="1.85" fill="#000"/>
<line x1="79.1" y1="672.99" x2="79.1" y2="674.45" stroke="#000" stroke-width="1.1"/>
<line x1="76.6" y1="672.99" x2="81.6" y2="672.99" stroke="#000" stroke-width="1.1"/>
<line x1="76.6" y1="674.45" x2="81.6" y2="674.45" stroke="#000" stroke-width="1.1"/>
<circle cx="79.1" cy="672.62" r="1.85" fill="#000"/>
<circle cx="76.2" cy="674.45" r="1.85" fill="#000"/>
<circle cx="82" cy="673.36" r="1.85" fill="#000"/>
<circle cx="98.95" cy="682.51" r="1.85" fill="#000"/>
<circle cx="96.05" cy="683.24" r="1.85" fill="#000"/>
<circle cx="101.85" cy="682.87" r="1.85" fill="#000"/>
<circle cx="118.8" cy="684.7" r="1.85" fill="#000"/>
<circle cx="115.9" cy="685.07" r="1.85" fill="#000"/>
<circle cx="121.7" cy="684.88" r="1.85" fill="#000"/>
<line x1="138.65" y1="641.88" x2="138.65" y2="652.86" stroke="#000" stroke-width="1.1"/>
<line x1="136.15" y1="641.88" x2="141.15" y2="641.88" stroke="#000" stroke-width="1.1"/>
<line x1="136.15" y1="652.86" x2="141.15" y2="652.86" stroke="#000" stroke-width="1.1"/>
<circle cx="138.65" cy="637.3" r="1.85" fill="#000"/>
<circle cx="135.75" cy="650.12" r="1.85" fill="#000"/>
<circle cx="141.55" cy="654.69" r="1.85" fill="#000"/>
<line x1="158.5" y1="660" x2="158.5" y2="661.09" stroke="#000" stroke-width="1.1"/>
<line x1="156" y1="660" x2="161" y2="660" stroke="#000" stroke-width="1.1"/>
<line x1="156" y1="661.09" x2="161" y2="661.09" stroke="#000" stroke-width="1.1"/>
<circle cx="158.5" cy="659.26" r="1.85" fill="#000"/>
<circle cx="155.6" cy="660.55" r="1.85" fill="#000"/>
<circle cx="161.4" cy="660.18" r="1.85" fill="#000"/>
<line x1="178.35" y1="671.53" x2="178.35" y2="673.36" stroke="#000" stroke-width="1.1"/>
<line x1="175.85" y1="671.53" x2="180.85" y2="671.53" stroke="#000" stroke-width="1.1"/>
<line x1="175.85" y1="673.36" x2="180.85" y2="673.36" stroke="#000" stroke-width="1.1"/>
<circle cx="178.35" cy="670.25" r="1.85" fill="#000"/>
<circle cx="175.45" cy="672.99" r="1.85" fill="#000"/>
<circle cx="181.25" cy="672.62" r="1.85" fill="#000"/>
<circle cx="198.2" cy="680.86" r="1.85" fill="#000"/>
<circle cx="195.3" cy="681.59" r="1.85" fill="#000"/>
<circle cx="201.1" cy="681.22" r="1.85" fill="#000"/>
<line x1="25.7" y1="686.6" x2="25.7" y2="630.05" stroke="#000" stroke-width="1.7"/>
<line x1="18.2" y1="685.8" x2="208" y2="685.8" stroke="#000" stroke-width="1.7"/>
<line x1="18.2" y1="685.8" x2="25.7" y2="685.8" stroke="#000" stroke-width="1.6"/>
<text x="15.9" y="688.4" font-size="7.7" text-anchor="end">0</text>
<line x1="18.2" y1="667.5" x2="25.7" y2="667.5" stroke="#000" stroke-width="1.6"/>
<text x="15.9" y="670.1" font-size="7.7" text-anchor="end">1</text>
<line x1="18.2" y1="649.2" x2="25.7" y2="649.2" stroke="#000" stroke-width="1.6"/>
<text x="15.9" y="651.8" font-size="7.7" text-anchor="end">2</text>
<line x1="18.2" y1="630.9" x2="25.7" y2="630.9" stroke="#000" stroke-width="1.6"/>
<text x="15.9" y="633.5" font-size="7.7" text-anchor="end">3</text>
<line x1="39.4" y1="685.8" x2="39.4" y2="692.8" stroke="#000" stroke-width="1.6"/>
<line x1="59.25" y1="685.8" x2="59.25" y2="692.8" stroke="#000" stroke-width="1.6"/>
<line x1="79.1" y1="685.8" x2="79.1" y2="692.8" stroke="#000" stroke-width="1.6"/>
<line x1="98.95" y1="685.8" x2="98.95" y2="692.8" stroke="#000" stroke-width="1.6"/>
<line x1="118.8" y1="685.8" x2="118.8" y2="692.8" stroke="#000" stroke-width="1.6"/>
<line x1="138.65" y1="685.8" x2="138.65" y2="692.8" stroke="#000" stroke-width="1.6"/>
<line x1="158.5" y1="685.8" x2="158.5" y2="692.8" stroke="#000" stroke-width="1.6"/>
<line x1="178.35" y1="685.8" x2="178.35" y2="692.8" stroke="#000" stroke-width="1.6"/>
<line x1="198.2" y1="685.8" x2="198.2" y2="692.8" stroke="#000" stroke-width="1.6"/>
<text x="59.25" y="702.1" font-size="7.7" text-anchor="middle">0.25</text>
<text x="79.1" y="702.1" font-size="7.7" text-anchor="middle">1</text>
<text x="98.95" y="702.1" font-size="7.7" text-anchor="middle">3</text>
<text x="118.8" y="702.1" font-size="7.7" text-anchor="middle">10</text>
<text x="138.65" y="702.1" font-size="7.7" text-anchor="middle">0.25</text>
<text x="158.5" y="702.1" font-size="7.7" text-anchor="middle">1</text>
<text x="178.35" y="702.1" font-size="7.7" text-anchor="middle">3</text>
<text x="198.2" y="702.1" font-size="7.7" text-anchor="middle">10</text>
<text x="205.3" y="702.1" font-size="7.7" text-anchor="start">mmol/l</text>
<text x="0" y="0" font-size="8.8" text-anchor="end" transform="translate(48.1,695.1) rotate(-50)">Control</text>
<line x1="52.6" y1="706.5" x2="123.8" y2="706.5" stroke="#000" stroke-width="1.2"/>
<text x="88" y="717.1" font-size="8.9" text-anchor="middle">Metformin</text>
<line x1="131.5" y1="706.5" x2="203" y2="706.5" stroke="#000" stroke-width="1.2"/>
<text x="166.4" y="717.1" font-size="8.9" text-anchor="middle">Imeglimin</text>
<text x="0" y="0" font-size="7.7" font-weight="bold" text-anchor="middle" transform="translate(7.1,656.9) rotate(-90)">OCR (pmol/min/ug)</text>
<path d="M39.3 549.3L39.3 538.3L158.1 538.3L158.1 549.3" fill="none" stroke="#1a1a1a" stroke-width="0.95"/>
<text x="98.2" y="535.9" font-size="7" text-anchor="middle">ns</text>
<path d="M39.3 567.6L39.3 556.6L138.2 556.6L138.2 567.6" fill="none" stroke="#1a1a1a" stroke-width="0.95"/>
<text x="88.2" y="554.2" font-size="7" text-anchor="middle">ns</text>
<path d="M39.3 585.9L39.3 574.9L78.9 574.9L78.9 585.9" fill="none" stroke="#1a1a1a" stroke-width="0.95"/>
<path d="M51.2 568.75L51.2 572.45M52.8 569.68L49.6 571.52M52.8 571.52L49.6 569.68" stroke="#000" stroke-width="1.1" fill="none"/>
<path d="M58.7 568.75L58.7 572.45M60.3 569.68L57.1 571.52M60.3 571.52L57.1 569.68" stroke="#000" stroke-width="1.1" fill="none"/>
<path d="M66.2 568.75L66.2 572.45M67.8 569.68L64.6 571.52M67.8 571.52L64.6 569.68" stroke="#000" stroke-width="1.1" fill="none"/>
<path d="M59.3 609.9L59.3 598.9L74.9 598.9L74.9 609.9" fill="none" stroke="#1a1a1a" stroke-width="0.95"/>
<path d="M55.75 593.05L55.75 596.75M57.35 593.98L54.15 595.82M57.35 595.82L54.15 593.98" stroke="#000" stroke-width="1.1" fill="none"/>
<path d="M63.25 593.05L63.25 596.75M64.85 593.98L61.65 595.82M64.85 595.82L61.65 593.98" stroke="#000" stroke-width="1.1" fill="none"/>
<path d="M70.75 593.05L70.75 596.75M72.35 593.98L69.15 595.82M72.35 595.82L69.15 593.98" stroke="#000" stroke-width="1.1" fill="none"/>
<path d="M78.25 593.05L78.25 596.75M79.85 593.98L76.65 595.82M79.85 595.82L76.65 593.98" stroke="#000" stroke-width="1.1" fill="none"/>
<path d="M82.2 609.9L82.2 598.9L118.8 598.9L118.8 609.9" fill="none" stroke="#1a1a1a" stroke-width="0.95"/>
<path d="M98.9 593.05L98.9 596.75M100.5 593.98L97.3 595.82M100.5 595.82L97.3 593.98" stroke="#000" stroke-width="1.1" fill="none"/>
<path d="M158.1 609.9L158.1 598.9L198.7 598.9L198.7 609.9" fill="none" stroke="#1a1a1a" stroke-width="0.95"/>
<path d="M165.95 593.05L165.95 596.75M167.55 593.98L164.35 595.82M167.55 595.82L164.35 593.98" stroke="#000" stroke-width="1.1" fill="none"/>
<path d="M173.45 593.05L173.45 596.75M175.05 593.98L171.85 595.82M175.05 595.82L171.85 593.98" stroke="#000" stroke-width="1.1" fill="none"/>
<path d="M180.95 593.05L180.95 596.75M182.55 593.98L179.35 595.82M182.55 595.82L179.35 593.98" stroke="#000" stroke-width="1.1" fill="none"/>
<path d="M188.45 593.05L188.45 596.75M190.05 593.98L186.85 595.82M190.05 595.82L186.85 593.98" stroke="#000" stroke-width="1.1" fill="none"/>
<path d="M39.3 633.2L39.3 622.2L59.3 622.2L59.3 633.2" fill="none" stroke="#1a1a1a" stroke-width="0.95"/>
<text x="49.3" y="619.6" font-size="7" text-anchor="middle">ns</text>
<path d="M78.9 633.2L78.9 622.2L95.5 622.2L95.5 633.2" fill="none" stroke="#1a1a1a" stroke-width="0.95"/>
<text x="87.2" y="619.6" font-size="7" text-anchor="middle">ns</text>
<path d="M102.2 633.2L102.2 622.2L118.8 622.2L118.8 633.2" fill="none" stroke="#1a1a1a" stroke-width="0.95"/>
<text x="110.5" y="619.6" font-size="7" text-anchor="middle">ns</text>
<path d="M138.8 633.2L138.8 622.2L154.1 622.2L154.1 633.2" fill="none" stroke="#1a1a1a" stroke-width="0.95"/>
<path d="M145.5 615.85L145.5 619.55M147.1 616.78L143.9 618.62M147.1 618.62L143.9 616.78" stroke="#000" stroke-width="1.1" fill="none"/>
<path d="M162.1 633.2L162.1 622.2L174.1 622.2L174.1 633.2" fill="none" stroke="#1a1a1a" stroke-width="0.95"/>
<path d="M167.4 615.85L167.4 619.55M169 616.78L165.8 618.62M169 618.62L165.8 616.78" stroke="#000" stroke-width="1.1" fill="none"/>
<path d="M181.4 633.2L181.4 622.2L198.7 622.2L198.7 633.2" fill="none" stroke="#1a1a1a" stroke-width="0.95"/>
<text x="189.7" y="619.6" font-size="7" text-anchor="middle">ns</text>
<rect x="257.2" y="651.88" width="11.6" height="33.72" fill="#808080" stroke="#000" stroke-width="1.65"/>
<rect x="277" y="651.52" width="11.6" height="34.08" fill="#ff0000" stroke="#000" stroke-width="1.65"/>
<rect x="296.8" y="672.45" width="11.6" height="13.15" fill="#ff0000" stroke="#000" stroke-width="1.65"/>
<rect x="316.6" y="680.64" width="11.6" height="4.96" fill="#ff0000" stroke="#000" stroke-width="1.65"/>
<rect x="336.4" y="683.92" width="11.6" height="1.68" fill="#ff0000" stroke="#000" stroke-width="1.65"/>
<rect x="356.2" y="648.79" width="11.6" height="36.81" fill="#0000ff" stroke="#000" stroke-width="1.65"/>
<rect x="376" y="660.62" width="11.6" height="24.98" fill="#0000ff" stroke="#000" stroke-width="1.65"/>
<rect x="395.8" y="673" width="11.6" height="12.6" fill="#4343ff" stroke="#000" stroke-width="1.65"/>
<rect x="415.6" y="681.19" width="11.6" height="4.41" fill="#4343ff" stroke="#000" stroke-width="1.65"/>
<line x1="263" y1="647.74" x2="263" y2="655.02" stroke="#000" stroke-width="1.1"/>
<line x1="260.5" y1="647.74" x2="265.5" y2="647.74" stroke="#000" stroke-width="1.1"/>
<line x1="260.5" y1="655.02" x2="265.5" y2="655.02" stroke="#000" stroke-width="1.1"/>
<circle cx="260.1" cy="646.47" r="1.85" fill="#000"/>
<circle cx="265.9" cy="649.2" r="1.85" fill="#000"/>
<circle cx="263" cy="659.21" r="1.85" fill="#000"/>
<line x1="282.8" y1="649.2" x2="282.8" y2="652.84" stroke="#000" stroke-width="1.1"/>
<line x1="280.3" y1="649.2" x2="285.3" y2="649.2" stroke="#000" stroke-width="1.1"/>
<line x1="280.3" y1="652.84" x2="285.3" y2="652.84" stroke="#000" stroke-width="1.1"/>
<circle cx="282.8" cy="646.47" r="1.85" fill="#000"/>
<circle cx="279.9" cy="651.93" r="1.85" fill="#000"/>
<circle cx="285.7" cy="652.84" r="1.85" fill="#000"/>
<line x1="302.6" y1="671.22" x2="302.6" y2="672.68" stroke="#000" stroke-width="1.1"/>
<line x1="300.1" y1="671.22" x2="305.1" y2="671.22" stroke="#000" stroke-width="1.1"/>
<line x1="300.1" y1="672.68" x2="305.1" y2="672.68" stroke="#000" stroke-width="1.1"/>
<circle cx="302.6" cy="671.04" r="1.85" fill="#000"/>
<circle cx="299.7" cy="672.5" r="1.85" fill="#000"/>
<circle cx="305.5" cy="671.77" r="1.85" fill="#000"/>
<circle cx="322.4" cy="679.59" r="1.85" fill="#000"/>
<circle cx="319.5" cy="680.5" r="1.85" fill="#000"/>
<circle cx="325.3" cy="680.14" r="1.85" fill="#000"/>
<circle cx="342.2" cy="683.23" r="1.85" fill="#000"/>
<circle cx="339.3" cy="683.6" r="1.85" fill="#000"/>
<circle cx="345.1" cy="683.42" r="1.85" fill="#000"/>
<line x1="362" y1="642.83" x2="362" y2="653.75" stroke="#000" stroke-width="1.1"/>
<line x1="359.5" y1="642.83" x2="364.5" y2="642.83" stroke="#000" stroke-width="1.1"/>
<line x1="359.5" y1="653.75" x2="364.5" y2="653.75" stroke="#000" stroke-width="1.1"/>
<circle cx="362" cy="638.28" r="1.85" fill="#000"/>
<circle cx="359.1" cy="650.11" r="1.85" fill="#000"/>
<circle cx="364.9" cy="656.48" r="1.85" fill="#000"/>
<line x1="381.8" y1="658.66" x2="381.8" y2="661.58" stroke="#000" stroke-width="1.1"/>
<line x1="379.3" y1="658.66" x2="384.3" y2="658.66" stroke="#000" stroke-width="1.1"/>
<line x1="379.3" y1="661.58" x2="384.3" y2="661.58" stroke="#000" stroke-width="1.1"/>
<circle cx="381.8" cy="656.48" r="1.85" fill="#000"/>
<circle cx="378.9" cy="661.03" r="1.85" fill="#000"/>
<circle cx="384.7" cy="661.94" r="1.85" fill="#000"/>
<line x1="401.6" y1="671.77" x2="401.6" y2="673.22" stroke="#000" stroke-width="1.1"/>
<line x1="399.1" y1="671.77" x2="404.1" y2="671.77" stroke="#000" stroke-width="1.1"/>
<line x1="399.1" y1="673.22" x2="404.1" y2="673.22" stroke="#000" stroke-width="1.1"/>
<circle cx="401.6" cy="671.04" r="1.85" fill="#000"/>
<circle cx="398.7" cy="673.22" r="1.85" fill="#000"/>
<circle cx="404.5" cy="672.86" r="1.85" fill="#000"/>
<circle cx="421.4" cy="680.14" r="1.85" fill="#000"/>
<circle cx="418.5" cy="680.87" r="1.85" fill="#000"/>
<circle cx="424.3" cy="680.69" r="1.85" fill="#000"/>
<line x1="249.7" y1="686.4" x2="249.7" y2="630.15" stroke="#000" stroke-width="1.7"/>
<line x1="242.2" y1="685.6" x2="436.4" y2="685.6" stroke="#000" stroke-width="1.7"/>
<line x1="242.2" y1="685.6" x2="249.7" y2="685.6" stroke="#000" stroke-width="1.6"/>
<text x="239.9" y="688.2" font-size="7.7" text-anchor="end">0</text>
<line x1="242.2" y1="667.4" x2="249.7" y2="667.4" stroke="#000" stroke-width="1.6"/>
<text x="239.9" y="670" font-size="7.7" text-anchor="end">1</text>
<line x1="242.2" y1="649.2" x2="249.7" y2="649.2" stroke="#000" stroke-width="1.6"/>
<text x="239.9" y="651.8" font-size="7.7" text-anchor="end">2</text>
<line x1="242.2" y1="631" x2="249.7" y2="631" stroke="#000" stroke-width="1.6"/>
<text x="239.9" y="633.6" font-size="7.7" text-anchor="end">3</text>
<line x1="263" y1="685.6" x2="263" y2="692.6" stroke="#000" stroke-width="1.6"/>
<line x1="282.8" y1="685.6" x2="282.8" y2="692.6" stroke="#000" stroke-width="1.6"/>
<line x1="302.6" y1="685.6" x2="302.6" y2="692.6" stroke="#000" stroke-width="1.6"/>
<line x1="322.4" y1="685.6" x2="322.4" y2="692.6" stroke="#000" stroke-width="1.6"/>
<line x1="342.2" y1="685.6" x2="342.2" y2="692.6" stroke="#000" stroke-width="1.6"/>
<line x1="362" y1="685.6" x2="362" y2="692.6" stroke="#000" stroke-width="1.6"/>
<line x1="381.8" y1="685.6" x2="381.8" y2="692.6" stroke="#000" stroke-width="1.6"/>
<line x1="401.6" y1="685.6" x2="401.6" y2="692.6" stroke="#000" stroke-width="1.6"/>
<line x1="421.4" y1="685.6" x2="421.4" y2="692.6" stroke="#000" stroke-width="1.6"/>
<text x="282.8" y="702.1" font-size="7.7" text-anchor="middle">0.25</text>
<text x="302.6" y="702.1" font-size="7.7" text-anchor="middle">1</text>
<text x="322.4" y="702.1" font-size="7.7" text-anchor="middle">3</text>
<text x="342.2" y="702.1" font-size="7.7" text-anchor="middle">10</text>
<text x="362" y="702.1" font-size="7.7" text-anchor="middle">0.25</text>
<text x="381.8" y="702.1" font-size="7.7" text-anchor="middle">1</text>
<text x="401.6" y="702.1" font-size="7.7" text-anchor="middle">3</text>
<text x="421.4" y="702.1" font-size="7.7" text-anchor="middle">10</text>
<text x="427.8" y="702.1" font-size="7.7" text-anchor="start">mmol/l</text>
<text x="0" y="0" font-size="8.8" text-anchor="end" transform="translate(270.6,695.6) rotate(-50)">Control</text>
<line x1="275.3" y1="706.5" x2="345.8" y2="706.5" stroke="#000" stroke-width="1.2"/>
<text x="310.9" y="717.1" font-size="8.9" text-anchor="middle">Metformin</text>
<line x1="354.2" y1="706.5" x2="425.7" y2="706.5" stroke="#000" stroke-width="1.2"/>
<text x="389.1" y="717.1" font-size="8.9" text-anchor="middle">Imeglimin</text>
<text x="0" y="0" font-size="7.7" font-weight="bold" text-anchor="middle" transform="translate(229.9,656.9) rotate(-90)">OCR (pmol/min/ug)</text>
<path d="M262.6 560.2L262.6 549.3L381.8 549.3L381.8 560.2" fill="none" stroke="#1a1a1a" stroke-width="0.95"/>
<text x="322.5" y="546.2" font-size="7" text-anchor="middle">ns</text>
<path d="M262.6 576.6L262.6 566.6L361.8 566.6L361.8 576.6" fill="none" stroke="#1a1a1a" stroke-width="0.95"/>
<text x="312.6" y="563.5" font-size="7" text-anchor="middle">ns</text>
<path d="M262.6 593.2L262.6 582.6L298.6 582.6L298.6 593.2" fill="none" stroke="#1a1a1a" stroke-width="0.95"/>
<path d="M272.8 576.55L272.8 580.25M274.4 577.48L271.2 579.32M274.4 579.32L271.2 577.48" stroke="#000" stroke-width="1.1" fill="none"/>
<path d="M280.3 576.55L280.3 580.25M281.9 577.48L278.7 579.32M281.9 579.32L278.7 577.48" stroke="#000" stroke-width="1.1" fill="none"/>
<path d="M287.8 576.55L287.8 580.25M289.4 577.48L286.2 579.32M289.4 579.32L286.2 577.48" stroke="#000" stroke-width="1.1" fill="none"/>
<path d="M285.9 614.2L285.9 603.2L298.6 603.2L298.6 614.2" fill="none" stroke="#1a1a1a" stroke-width="0.95"/>
<path d="M284.7 597.15L284.7 600.85M286.3 598.08L283.1 599.92M286.3 599.92L283.1 598.08" stroke="#000" stroke-width="1.1" fill="none"/>
<path d="M292.2 597.15L292.2 600.85M293.8 598.08L290.6 599.92M293.8 599.92L290.6 598.08" stroke="#000" stroke-width="1.1" fill="none"/>
<path d="M299.7 597.15L299.7 600.85M301.3 598.08L298.1 599.92M301.3 599.92L298.1 598.08" stroke="#000" stroke-width="1.1" fill="none"/>
<path d="M305.9 614.2L305.9 603.2L342.5 603.2L342.5 614.2" fill="none" stroke="#1a1a1a" stroke-width="0.95"/>
<path d="M323.2 597.15L323.2 600.85M324.8 598.08L321.6 599.92M324.8 599.92L321.6 598.08" stroke="#000" stroke-width="1.1" fill="none"/>
<path d="M385.1 614.2L385.1 603.2L421.4 603.2L421.4 614.2" fill="none" stroke="#1a1a1a" stroke-width="0.95"/>
<path d="M395.3 597.15L395.3 600.85M396.9 598.08L393.7 599.92M396.9 599.92L393.7 598.08" stroke="#000" stroke-width="1.1" fill="none"/>
<path d="M402.8 597.15L402.8 600.85M404.4 598.08L401.2 599.92M404.4 599.92L401.2 598.08" stroke="#000" stroke-width="1.1" fill="none"/>
<path d="M410.3 597.15L410.3 600.85M411.9 598.08L408.7 599.92M411.9 599.92L408.7 598.08" stroke="#000" stroke-width="1.1" fill="none"/>
<path d="M262.6 634.2L262.6 623.9L279.3 623.9L279.3 634.2" fill="none" stroke="#1a1a1a" stroke-width="0.95"/>
<text x="270.9" y="621" font-size="7" text-anchor="middle">ns</text>
<path d="M305.9 634.2L305.9 623.9L318.5 623.9L318.5 634.2" fill="none" stroke="#1a1a1a" stroke-width="0.95"/>
<text x="311.9" y="621" font-size="7" text-anchor="middle">ns</text>
<path d="M325.2 634.2L325.2 623.9L342.5 623.9L342.5 634.2" fill="none" stroke="#1a1a1a" stroke-width="0.95"/>
<text x="334.2" y="621" font-size="7" text-anchor="middle">ns</text>
<path d="M361.8 634.2L361.8 623.9L378.5 623.9L378.5 634.2" fill="none" stroke="#1a1a1a" stroke-width="0.95"/>
<text x="370.1" y="621" font-size="7" text-anchor="middle">ns</text>
<path d="M385.1 634.2L385.1 623.9L398.4 623.9L398.4 634.2" fill="none" stroke="#1a1a1a" stroke-width="0.95"/>
<path d="M390.8 617.65L390.8 621.35M392.4 618.58L389.2 620.42M392.4 620.42L389.2 618.58" stroke="#000" stroke-width="1.1" fill="none"/>
<path d="M405.1 634.2L405.1 623.9L421.4 623.9L421.4 634.2" fill="none" stroke="#1a1a1a" stroke-width="0.95"/>
<text x="413.4" y="621" font-size="7" text-anchor="middle">ns</text>
<rect x="481.3" y="656.77" width="11.6" height="29.93" fill="#808080" stroke="#000" stroke-width="1.65"/>
<rect x="501.13" y="663.93" width="11.6" height="22.77" fill="#ff0000" stroke="#000" stroke-width="1.65"/>
<rect x="520.96" y="673.95" width="11.6" height="12.75" fill="#ff0000" stroke="#000" stroke-width="1.65"/>
<rect x="540.79" y="677.18" width="11.6" height="9.52" fill="#ff0000" stroke="#000" stroke-width="1.65"/>
<rect x="560.62" y="681.11" width="11.6" height="5.59" fill="#ff0000" stroke="#000" stroke-width="1.65"/>
<rect x="580.45" y="658.92" width="11.6" height="27.78" fill="#0000ff" stroke="#000" stroke-width="1.65"/>
<rect x="600.28" y="664.65" width="11.6" height="22.05" fill="#0000ff" stroke="#000" stroke-width="1.65"/>
<rect x="620.11" y="670.37" width="11.6" height="16.33" fill="#4343ff" stroke="#000" stroke-width="1.65"/>
<rect x="639.94" y="671.81" width="11.6" height="14.89" fill="#4343ff" stroke="#000" stroke-width="1.65"/>
<line x1="487.1" y1="652.69" x2="487.1" y2="659.85" stroke="#000" stroke-width="1.1"/>
<line x1="484.6" y1="652.69" x2="489.6" y2="652.69" stroke="#000" stroke-width="1.1"/>
<line x1="484.6" y1="659.85" x2="489.6" y2="659.85" stroke="#000" stroke-width="1.1"/>
<circle cx="487.1" cy="651.62" r="1.85" fill="#000"/>
<circle cx="484.2" cy="655.2" r="1.85" fill="#000"/>
<circle cx="490" cy="661.64" r="1.85" fill="#000"/>
<line x1="506.93" y1="662" x2="506.93" y2="664.86" stroke="#000" stroke-width="1.1"/>
<line x1="504.43" y1="662" x2="509.43" y2="662" stroke="#000" stroke-width="1.1"/>
<line x1="504.43" y1="664.86" x2="509.43" y2="664.86" stroke="#000" stroke-width="1.1"/>
<circle cx="506.93" cy="660.92" r="1.85" fill="#000"/>
<circle cx="504.03" cy="664.5" r="1.85" fill="#000"/>
<circle cx="509.83" cy="664.15" r="1.85" fill="#000"/>
<line x1="526.76" y1="672.74" x2="526.76" y2="674.17" stroke="#000" stroke-width="1.1"/>
<line x1="524.26" y1="672.74" x2="529.26" y2="672.74" stroke="#000" stroke-width="1.1"/>
<line x1="524.26" y1="674.17" x2="529.26" y2="674.17" stroke="#000" stroke-width="1.1"/>
<circle cx="526.76" cy="672.74" r="1.85" fill="#000"/>
<circle cx="523.86" cy="674.17" r="1.85" fill="#000"/>
<circle cx="529.66" cy="673.45" r="1.85" fill="#000"/>
<circle cx="546.59" cy="676.32" r="1.85" fill="#000"/>
<circle cx="543.69" cy="677.03" r="1.85" fill="#000"/>
<circle cx="549.49" cy="676.68" r="1.85" fill="#000"/>
<circle cx="566.42" cy="679.9" r="1.85" fill="#000"/>
<circle cx="563.52" cy="680.97" r="1.85" fill="#000"/>
<circle cx="569.32" cy="680.61" r="1.85" fill="#000"/>
<line x1="586.25" y1="654.12" x2="586.25" y2="662.71" stroke="#000" stroke-width="1.1"/>
<line x1="583.75" y1="654.12" x2="588.75" y2="654.12" stroke="#000" stroke-width="1.1"/>
<line x1="583.75" y1="662.71" x2="588.75" y2="662.71" stroke="#000" stroke-width="1.1"/>
<circle cx="586.25" cy="649.83" r="1.85" fill="#000"/>
<circle cx="583.35" cy="659.85" r="1.85" fill="#000"/>
<circle cx="589.15" cy="664.15" r="1.85" fill="#000"/>
<line x1="606.08" y1="663.07" x2="606.08" y2="665.22" stroke="#000" stroke-width="1.1"/>
<line x1="603.58" y1="663.07" x2="608.58" y2="663.07" stroke="#000" stroke-width="1.1"/>
<line x1="603.58" y1="665.22" x2="608.58" y2="665.22" stroke="#000" stroke-width="1.1"/>
<circle cx="606.08" cy="662" r="1.85" fill="#000"/>
<circle cx="603.18" cy="664.5" r="1.85" fill="#000"/>
<circle cx="608.98" cy="665.22" r="1.85" fill="#000"/>
<line x1="625.91" y1="668.8" x2="625.91" y2="670.95" stroke="#000" stroke-width="1.1"/>
<line x1="623.41" y1="668.8" x2="628.41" y2="668.8" stroke="#000" stroke-width="1.1"/>
<line x1="623.41" y1="670.95" x2="628.41" y2="670.95" stroke="#000" stroke-width="1.1"/>
<circle cx="625.91" cy="668.08" r="1.85" fill="#000"/>
<circle cx="623.01" cy="670.59" r="1.85" fill="#000"/>
<circle cx="628.81" cy="670.23" r="1.85" fill="#000"/>
<circle cx="645.74" cy="670.59" r="1.85" fill="#000"/>
<circle cx="642.84" cy="671.66" r="1.85" fill="#000"/>
<circle cx="648.64" cy="671.31" r="1.85" fill="#000"/>
<line x1="473.8" y1="687.5" x2="473.8" y2="632.15" stroke="#000" stroke-width="1.7"/>
<line x1="466.3" y1="686.7" x2="661" y2="686.7" stroke="#000" stroke-width="1.7"/>
<line x1="466.3" y1="686.7" x2="473.8" y2="686.7" stroke="#000" stroke-width="1.6"/>
<text x="464" y="689.3" font-size="7.7" text-anchor="end">0</text>
<line x1="466.3" y1="668.8" x2="473.8" y2="668.8" stroke="#000" stroke-width="1.6"/>
<text x="464" y="671.4" font-size="7.7" text-anchor="end">5</text>
<line x1="466.3" y1="650.9" x2="473.8" y2="650.9" stroke="#000" stroke-width="1.6"/>
<text x="464" y="653.5" font-size="7.7" text-anchor="end">10</text>
<line x1="466.3" y1="633" x2="473.8" y2="633" stroke="#000" stroke-width="1.6"/>
<text x="464" y="635.6" font-size="7.7" text-anchor="end">15</text>
<line x1="487.1" y1="686.7" x2="487.1" y2="693.7" stroke="#000" stroke-width="1.6"/>
<line x1="506.93" y1="686.7" x2="506.93" y2="693.7" stroke="#000" stroke-width="1.6"/>
<line x1="526.76" y1="686.7" x2="526.76" y2="693.7" stroke="#000" stroke-width="1.6"/>
<line x1="546.59" y1="686.7" x2="546.59" y2="693.7" stroke="#000" stroke-width="1.6"/>
<line x1="566.42" y1="686.7" x2="566.42" y2="693.7" stroke="#000" stroke-width="1.6"/>
<line x1="586.25" y1="686.7" x2="586.25" y2="693.7" stroke="#000" stroke-width="1.6"/>
<line x1="606.08" y1="686.7" x2="606.08" y2="693.7" stroke="#000" stroke-width="1.6"/>
<line x1="625.91" y1="686.7" x2="625.91" y2="693.7" stroke="#000" stroke-width="1.6"/>
<line x1="645.74" y1="686.7" x2="645.74" y2="693.7" stroke="#000" stroke-width="1.6"/>
<text x="506.93" y="702.6" font-size="7.7" text-anchor="middle">0.25</text>
<text x="526.76" y="702.6" font-size="7.7" text-anchor="middle">1</text>
<text x="546.59" y="702.6" font-size="7.7" text-anchor="middle">3</text>
<text x="566.42" y="702.6" font-size="7.7" text-anchor="middle">10</text>
<text x="586.25" y="702.6" font-size="7.7" text-anchor="middle">0.25</text>
<text x="606.08" y="702.6" font-size="7.7" text-anchor="middle">1</text>
<text x="625.91" y="702.6" font-size="7.7" text-anchor="middle">3</text>
<text x="645.74" y="702.6" font-size="7.7" text-anchor="middle">10</text>
<text x="652.9" y="702.6" font-size="7.7" text-anchor="start">mmol/l</text>
<text x="0" y="0" font-size="8.8" text-anchor="end" transform="translate(495.3,695.5) rotate(-50)">Control</text>
<line x1="500" y1="706.8" x2="570.7" y2="706.8" stroke="#000" stroke-width="1.2"/>
<text x="532.2" y="717.3" font-size="8.9" text-anchor="middle">Metformin</text>
<line x1="578.4" y1="706.8" x2="650.9" y2="706.8" stroke="#000" stroke-width="1.2"/>
<text x="614.2" y="717.3" font-size="8.9" text-anchor="middle">Imeglimin</text>
<text x="0" y="0" font-size="7.7" font-weight="bold" text-anchor="middle" transform="translate(453.3,656.9) rotate(-90)">OCR (pmol/min/ug)</text>
<path d="M487.1 557.6L487.1 546.4L625.9 546.4L625.9 557.6" fill="none" stroke="#1a1a1a" stroke-width="0.95"/>
<path d="M551.85 540.25L551.85 543.95M553.45 541.18L550.25 543.02M553.45 543.02L550.25 541.18" stroke="#000" stroke-width="1.1" fill="none"/>
<path d="M559.35 540.25L559.35 543.95M560.95 541.18L557.75 543.02M560.95 543.02L557.75 541.18" stroke="#000" stroke-width="1.1" fill="none"/>
<path d="M487.1 572.5L487.1 562L606.5 562L606.5 572.5" fill="none" stroke="#1a1a1a" stroke-width="0.95"/>
<text x="546.6" y="559.2" font-size="7" text-anchor="middle">ns</text>
<path d="M487.1 587.5L487.1 577.3L582.4 577.3L582.4 587.5" fill="none" stroke="#1a1a1a" stroke-width="0.95"/>
<text x="534.9" y="574.5" font-size="7" text-anchor="middle">ns</text>
<path d="M507.2 600.9L507.2 590.2L546.6 590.2L546.6 600.9" fill="none" stroke="#1a1a1a" stroke-width="0.95"/>
<path d="M522.65 584.05L522.65 587.75M524.25 584.98L521.05 586.82M524.25 586.82L521.05 584.98" stroke="#000" stroke-width="1.1" fill="none"/>
<path d="M530.15 584.05L530.15 587.75M531.75 584.98L528.55 586.82M531.75 586.82L528.55 584.98" stroke="#000" stroke-width="1.1" fill="none"/>
<path d="M589.7 600.9L589.7 590.2L625.9 590.2L625.9 600.9" fill="none" stroke="#1a1a1a" stroke-width="0.95"/>
<path d="M606.8 584.05L606.8 587.75M608.4 584.98L605.2 586.82M608.4 586.82L605.2 584.98" stroke="#000" stroke-width="1.1" fill="none"/>
<path d="M487.1 622.6L487.1 611.9L523.2 611.9L523.2 622.6" fill="none" stroke="#1a1a1a" stroke-width="0.95"/>
<path d="M497.3 606.15L497.3 609.85M498.9 607.08L495.7 608.92M498.9 608.92L495.7 607.08" stroke="#000" stroke-width="1.1" fill="none"/>
<path d="M504.8 606.15L504.8 609.85M506.4 607.08L503.2 608.92M506.4 608.92L503.2 607.08" stroke="#000" stroke-width="1.1" fill="none"/>
<path d="M512.3 606.15L512.3 609.85M513.9 607.08L510.7 608.92M513.9 608.92L510.7 607.08" stroke="#000" stroke-width="1.1" fill="none"/>
<path d="M530.6 622.6L530.6 611.9L566.7 611.9L566.7 622.6" fill="none" stroke="#1a1a1a" stroke-width="0.95"/>
<text x="548.3" y="609.3" font-size="7" text-anchor="middle">ns</text>
<path d="M609.8 622.6L609.8 611.9L645.2 611.9L645.2 622.6" fill="none" stroke="#1a1a1a" stroke-width="0.95"/>
<text x="627.5" y="609.3" font-size="7" text-anchor="middle">ns</text>
<path d="M487.1 644.4L487.1 634.3L503.2 634.3L503.2 644.4" fill="none" stroke="#1a1a1a" stroke-width="0.95"/>
<text x="494.8" y="631.6" font-size="7" text-anchor="middle">ns</text>
<path d="M510.5 644.4L510.5 634.3L523.2 634.3L523.2 644.4" fill="none" stroke="#1a1a1a" stroke-width="0.95"/>
<text x="516.5" y="631.6" font-size="7" text-anchor="middle">ns</text>
<path d="M530.6 644.4L530.6 634.3L543.3 634.3L543.3 644.4" fill="none" stroke="#1a1a1a" stroke-width="0.95"/>
<text x="536.6" y="631.6" font-size="7" text-anchor="middle">ns</text>
<path d="M550.6 644.4L550.6 634.3L566.7 634.3L566.7 644.4" fill="none" stroke="#1a1a1a" stroke-width="0.95"/>
<text x="558.3" y="631.6" font-size="7" text-anchor="middle">ns</text>
<path d="M586.4 644.4L586.4 634.3L602.5 634.3L602.5 644.4" fill="none" stroke="#1a1a1a" stroke-width="0.95"/>
<text x="594.1" y="631.6" font-size="7" text-anchor="middle">ns</text>
<path d="M609.8 644.4L609.8 634.3L622.5 634.3L622.5 644.4" fill="none" stroke="#1a1a1a" stroke-width="0.95"/>
<text x="615.8" y="631.6" font-size="7" text-anchor="middle">ns</text>
<path d="M629.2 644.4L629.2 634.3L645.2 634.3L645.2 644.4" fill="none" stroke="#1a1a1a" stroke-width="0.95"/>
<text x="637.6" y="631.6" font-size="7" text-anchor="middle">ns</text>
<rect x="84.1" y="836.33" width="14.8" height="76.27" fill="#a3a3a8" stroke="#000" stroke-width="1.65"/>
<rect x="108.1" y="849.93" width="14.8" height="62.67" fill="#ff0000" stroke="#000" stroke-width="1.65"/>
<rect x="132.1" y="855.91" width="14.8" height="56.69" fill="#ff0000" stroke="#000" stroke-width="1.65"/>
<rect x="156.1" y="853.27" width="14.8" height="59.33" fill="#ff0000" stroke="#000" stroke-width="1.65"/>
<rect x="180.1" y="849.31" width="14.8" height="63.29" fill="#0000ff" stroke="#000" stroke-width="1.65"/>
<rect x="204.1" y="863.61" width="14.8" height="48.99" fill="#0000ff" stroke="#000" stroke-width="1.65"/>
<rect x="228.1" y="860.26" width="14.8" height="52.34" fill="#0000ff" stroke="#000" stroke-width="1.65"/>
<line x1="91.5" y1="832.34" x2="91.5" y2="839.33" stroke="#000" stroke-width="1.1"/>
<line x1="89" y1="832.34" x2="94" y2="832.34" stroke="#000" stroke-width="1.1"/>
<line x1="89" y1="839.33" x2="94" y2="839.33" stroke="#000" stroke-width="1.1"/>
<circle cx="91.5" cy="829.23" r="2.3" fill="none" stroke="#000" stroke-width="1.05"/>
<circle cx="86.8" cy="838.4" r="2.3" fill="none" stroke="#000" stroke-width="1.05"/>
<circle cx="96.4" cy="838.4" r="2.3" fill="none" stroke="#000" stroke-width="1.05"/>
<line x1="115.5" y1="847.88" x2="115.5" y2="850.98" stroke="#000" stroke-width="1.1"/>
<line x1="113" y1="847.88" x2="118" y2="847.88" stroke="#000" stroke-width="1.1"/>
<line x1="113" y1="850.98" x2="118" y2="850.98" stroke="#000" stroke-width="1.1"/>
<circle cx="109.7" cy="851.84" r="2.3" fill="none" stroke="#000" stroke-width="1.05"/>
<circle cx="115.3" cy="845.7" r="2.3" fill="none" stroke="#000" stroke-width="1.05"/>
<circle cx="120.8" cy="847.49" r="2.3" fill="none" stroke="#000" stroke-width="1.05"/>
<circle cx="133.9" cy="854.71" r="2.3" fill="none" stroke="#000" stroke-width="1.05"/>
<circle cx="139" cy="852.77" r="2.3" fill="none" stroke="#000" stroke-width="1.05"/>
<circle cx="143.9" cy="853.86" r="2.3" fill="none" stroke="#000" stroke-width="1.05"/>
<line x1="163.5" y1="850.44" x2="163.5" y2="855.1" stroke="#000" stroke-width="1.1"/>
<line x1="161" y1="850.44" x2="166" y2="850.44" stroke="#000" stroke-width="1.1"/>
<line x1="161" y1="855.1" x2="166" y2="855.1" stroke="#000" stroke-width="1.1"/>
<circle cx="157.9" cy="848.89" r="2.3" fill="none" stroke="#000" stroke-width="1.05"/>
<circle cx="163.4" cy="856.66" r="2.3" fill="none" stroke="#000" stroke-width="1.05"/>
<circle cx="168.5" cy="850.52" r="2.3" fill="none" stroke="#000" stroke-width="1.05"/>
<line x1="187.5" y1="846.48" x2="187.5" y2="851.14" stroke="#000" stroke-width="1.1"/>
<line x1="185" y1="846.48" x2="190" y2="846.48" stroke="#000" stroke-width="1.1"/>
<line x1="185" y1="851.14" x2="190" y2="851.14" stroke="#000" stroke-width="1.1"/>
<circle cx="182" cy="843.76" r="2.3" fill="none" stroke="#000" stroke-width="1.05"/>
<circle cx="182.3" cy="852.15" r="2.3" fill="none" stroke="#000" stroke-width="1.05"/>
<circle cx="191.8" cy="846.56" r="2.3" fill="none" stroke="#000" stroke-width="1.05"/>
<line x1="211.5" y1="861.55" x2="211.5" y2="864.66" stroke="#000" stroke-width="1.1"/>
<line x1="209" y1="861.55" x2="214" y2="861.55" stroke="#000" stroke-width="1.1"/>
<line x1="209" y1="864.66" x2="214" y2="864.66" stroke="#000" stroke-width="1.1"/>
<circle cx="206" cy="866.45" r="2.3" fill="none" stroke="#000" stroke-width="1.05"/>
<circle cx="211.1" cy="859.38" r="2.3" fill="none" stroke="#000" stroke-width="1.05"/>
<circle cx="216.4" cy="861.4" r="2.3" fill="none" stroke="#000" stroke-width="1.05"/>
<line x1="235.5" y1="857.43" x2="235.5" y2="862.1" stroke="#000" stroke-width="1.1"/>
<line x1="233" y1="857.43" x2="238" y2="857.43" stroke="#000" stroke-width="1.1"/>
<line x1="233" y1="862.1" x2="238" y2="862.1" stroke="#000" stroke-width="1.1"/>
<circle cx="229.9" cy="856.5" r="2.3" fill="none" stroke="#000" stroke-width="1.05"/>
<circle cx="234.7" cy="864.12" r="2.3" fill="none" stroke="#000" stroke-width="1.05"/>
<circle cx="240.3" cy="857.67" r="2.3" fill="none" stroke="#000" stroke-width="1.05"/>
<line x1="75.4" y1="913.4" x2="75.4" y2="795.2" stroke="#000" stroke-width="1.7"/>
<line x1="67.9" y1="912.6" x2="251" y2="912.6" stroke="#000" stroke-width="1.7"/>
<line x1="67.9" y1="912.6" x2="75.4" y2="912.6" stroke="#000" stroke-width="1.6"/>
<text x="65.6" y="915.2" font-size="7.7" text-anchor="end">0.0</text>
<line x1="67.9" y1="873.75" x2="75.4" y2="873.75" stroke="#000" stroke-width="1.6"/>
<text x="65.6" y="876.35" font-size="7.7" text-anchor="end">0.5</text>
<line x1="67.9" y1="834.9" x2="75.4" y2="834.9" stroke="#000" stroke-width="1.6"/>
<text x="65.6" y="837.5" font-size="7.7" text-anchor="end">1.0</text>
<line x1="67.9" y1="796.05" x2="75.4" y2="796.05" stroke="#000" stroke-width="1.6"/>
<text x="65.6" y="798.65" font-size="7.7" text-anchor="end">1.5</text>
<line x1="91.5" y1="912.6" x2="91.5" y2="919.6" stroke="#000" stroke-width="1.6"/>
<line x1="115.5" y1="912.6" x2="115.5" y2="919.6" stroke="#000" stroke-width="1.6"/>
<line x1="139.5" y1="912.6" x2="139.5" y2="919.6" stroke="#000" stroke-width="1.6"/>
<line x1="163.5" y1="912.6" x2="163.5" y2="919.6" stroke="#000" stroke-width="1.6"/>
<line x1="187.5" y1="912.6" x2="187.5" y2="919.6" stroke="#000" stroke-width="1.6"/>
<line x1="211.5" y1="912.6" x2="211.5" y2="919.6" stroke="#000" stroke-width="1.6"/>
<line x1="235.5" y1="912.6" x2="235.5" y2="919.6" stroke="#000" stroke-width="1.6"/>
<text x="115.5" y="929.3" font-size="7.7" text-anchor="middle">1</text>
<text x="139.5" y="929.3" font-size="7.7" text-anchor="middle">3</text>
<text x="163.5" y="929.3" font-size="7.7" text-anchor="middle">10</text>
<text x="187.5" y="929.3" font-size="7.7" text-anchor="middle">1</text>
<text x="211.5" y="929.3" font-size="7.7" text-anchor="middle">3</text>
<text x="235.5" y="929.3" font-size="7.7" text-anchor="middle">10</text>
<text x="0" y="0" font-size="8.8" text-anchor="end" transform="translate(99.2,922.5) rotate(-50)">Control</text>
<line x1="111" y1="933.6" x2="168.5" y2="933.6" stroke="#000" stroke-width="1.2"/>
<text x="138.6" y="943.8" font-size="8.9" text-anchor="middle">Metformin</text>
<line x1="183" y1="933.6" x2="238.2" y2="933.6" stroke="#000" stroke-width="1.2"/>
<text x="208.6" y="943.8" font-size="8.9" text-anchor="middle">Imeglimin</text>
<text x="0" y="0" font-size="7.6" font-weight="bold" text-anchor="middle" transform="translate(50,852.5) rotate(-90)">Relative fluorescence intensity</text>
<path d="M91.3 755L91.3 743.7L234.3 743.7L234.3 755" fill="none" stroke="#1a1a1a" stroke-width="0.95"/>
<path d="M151.05 737.25L151.05 740.95M152.65 738.18L149.45 740.02M152.65 740.02L149.45 738.18" stroke="#000" stroke-width="1.1" fill="none"/>
<path d="M158.55 737.25L158.55 740.95M160.15 738.18L156.95 740.02M160.15 740.02L156.95 738.18" stroke="#000" stroke-width="1.1" fill="none"/>
<path d="M166.05 737.25L166.05 740.95M167.65 738.18L164.45 740.02M167.65 740.02L164.45 738.18" stroke="#000" stroke-width="1.1" fill="none"/>
<path d="M173.55 737.25L173.55 740.95M175.15 738.18L171.95 740.02M175.15 740.02L171.95 738.18" stroke="#000" stroke-width="1.1" fill="none"/>
<path d="M91.3 769L91.3 758.3L210.6 758.3L210.6 769" fill="none" stroke="#1a1a1a" stroke-width="0.95"/>
<path d="M139.65 752.05L139.65 755.75M141.25 752.98L138.05 754.82M141.25 754.82L138.05 752.98" stroke="#000" stroke-width="1.1" fill="none"/>
<path d="M147.15 752.05L147.15 755.75M148.75 752.98L145.55 754.82M148.75 754.82L145.55 752.98" stroke="#000" stroke-width="1.1" fill="none"/>
<path d="M154.65 752.05L154.65 755.75M156.25 752.98L153.05 754.82M156.25 754.82L153.05 752.98" stroke="#000" stroke-width="1.1" fill="none"/>
<path d="M162.15 752.05L162.15 755.75M163.75 752.98L160.55 754.82M163.75 754.82L160.55 752.98" stroke="#000" stroke-width="1.1" fill="none"/>
<path d="M91.3 784L91.3 773.6L186.9 773.6L186.9 784" fill="none" stroke="#1a1a1a" stroke-width="0.95"/>
<path d="M134.15 767.35L134.15 771.05M135.75 768.28L132.55 770.12M135.75 770.12L132.55 768.28" stroke="#000" stroke-width="1.1" fill="none"/>
<path d="M141.65 767.35L141.65 771.05M143.25 768.28L140.05 770.12M143.25 770.12L140.05 768.28" stroke="#000" stroke-width="1.1" fill="none"/>
<path d="M91.3 798.5L91.3 787.8L163.5 787.8L163.5 798.5" fill="none" stroke="#1a1a1a" stroke-width="0.95"/>
<path d="M119.4 781.15L119.4 784.85M121 782.08L117.8 783.92M121 783.92L117.8 782.08" stroke="#000" stroke-width="1.1" fill="none"/>
<path d="M126.9 781.15L126.9 784.85M128.5 782.08L125.3 783.92M128.5 783.92L125.3 782.08" stroke="#000" stroke-width="1.1" fill="none"/>
<path d="M134.4 781.15L134.4 784.85M136 782.08L132.8 783.92M136 783.92L132.8 782.08" stroke="#000" stroke-width="1.1" fill="none"/>
<path d="M91.3 812.3L91.3 801.6L139.5 801.6L139.5 812.3" fill="none" stroke="#1a1a1a" stroke-width="0.95"/>
<path d="M103.15 795.45L103.15 799.15M104.75 796.38L101.55 798.22M104.75 798.22L101.55 796.38" stroke="#000" stroke-width="1.1" fill="none"/>
<path d="M110.65 795.45L110.65 799.15M112.25 796.38L109.05 798.22M112.25 798.22L109.05 796.38" stroke="#000" stroke-width="1.1" fill="none"/>
<path d="M118.15 795.45L118.15 799.15M119.75 796.38L116.55 798.22M119.75 798.22L116.55 796.38" stroke="#000" stroke-width="1.1" fill="none"/>
<path d="M125.65 795.45L125.65 799.15M127.25 796.38L124.05 798.22M127.25 798.22L124.05 796.38" stroke="#000" stroke-width="1.1" fill="none"/>
<path d="M91.3 825.6L91.3 814.8L115.6 814.8L115.6 825.6" fill="none" stroke="#1a1a1a" stroke-width="0.95"/>
<path d="M99.85 808.55L99.85 812.25M101.45 809.48L98.25 811.32M101.45 811.32L98.25 809.48" stroke="#000" stroke-width="1.1" fill="none"/>
<path d="M107.35 808.55L107.35 812.25M108.95 809.48L105.75 811.32M108.95 811.32L105.75 809.48" stroke="#000" stroke-width="1.1" fill="none"/>
</svg></body></html>
